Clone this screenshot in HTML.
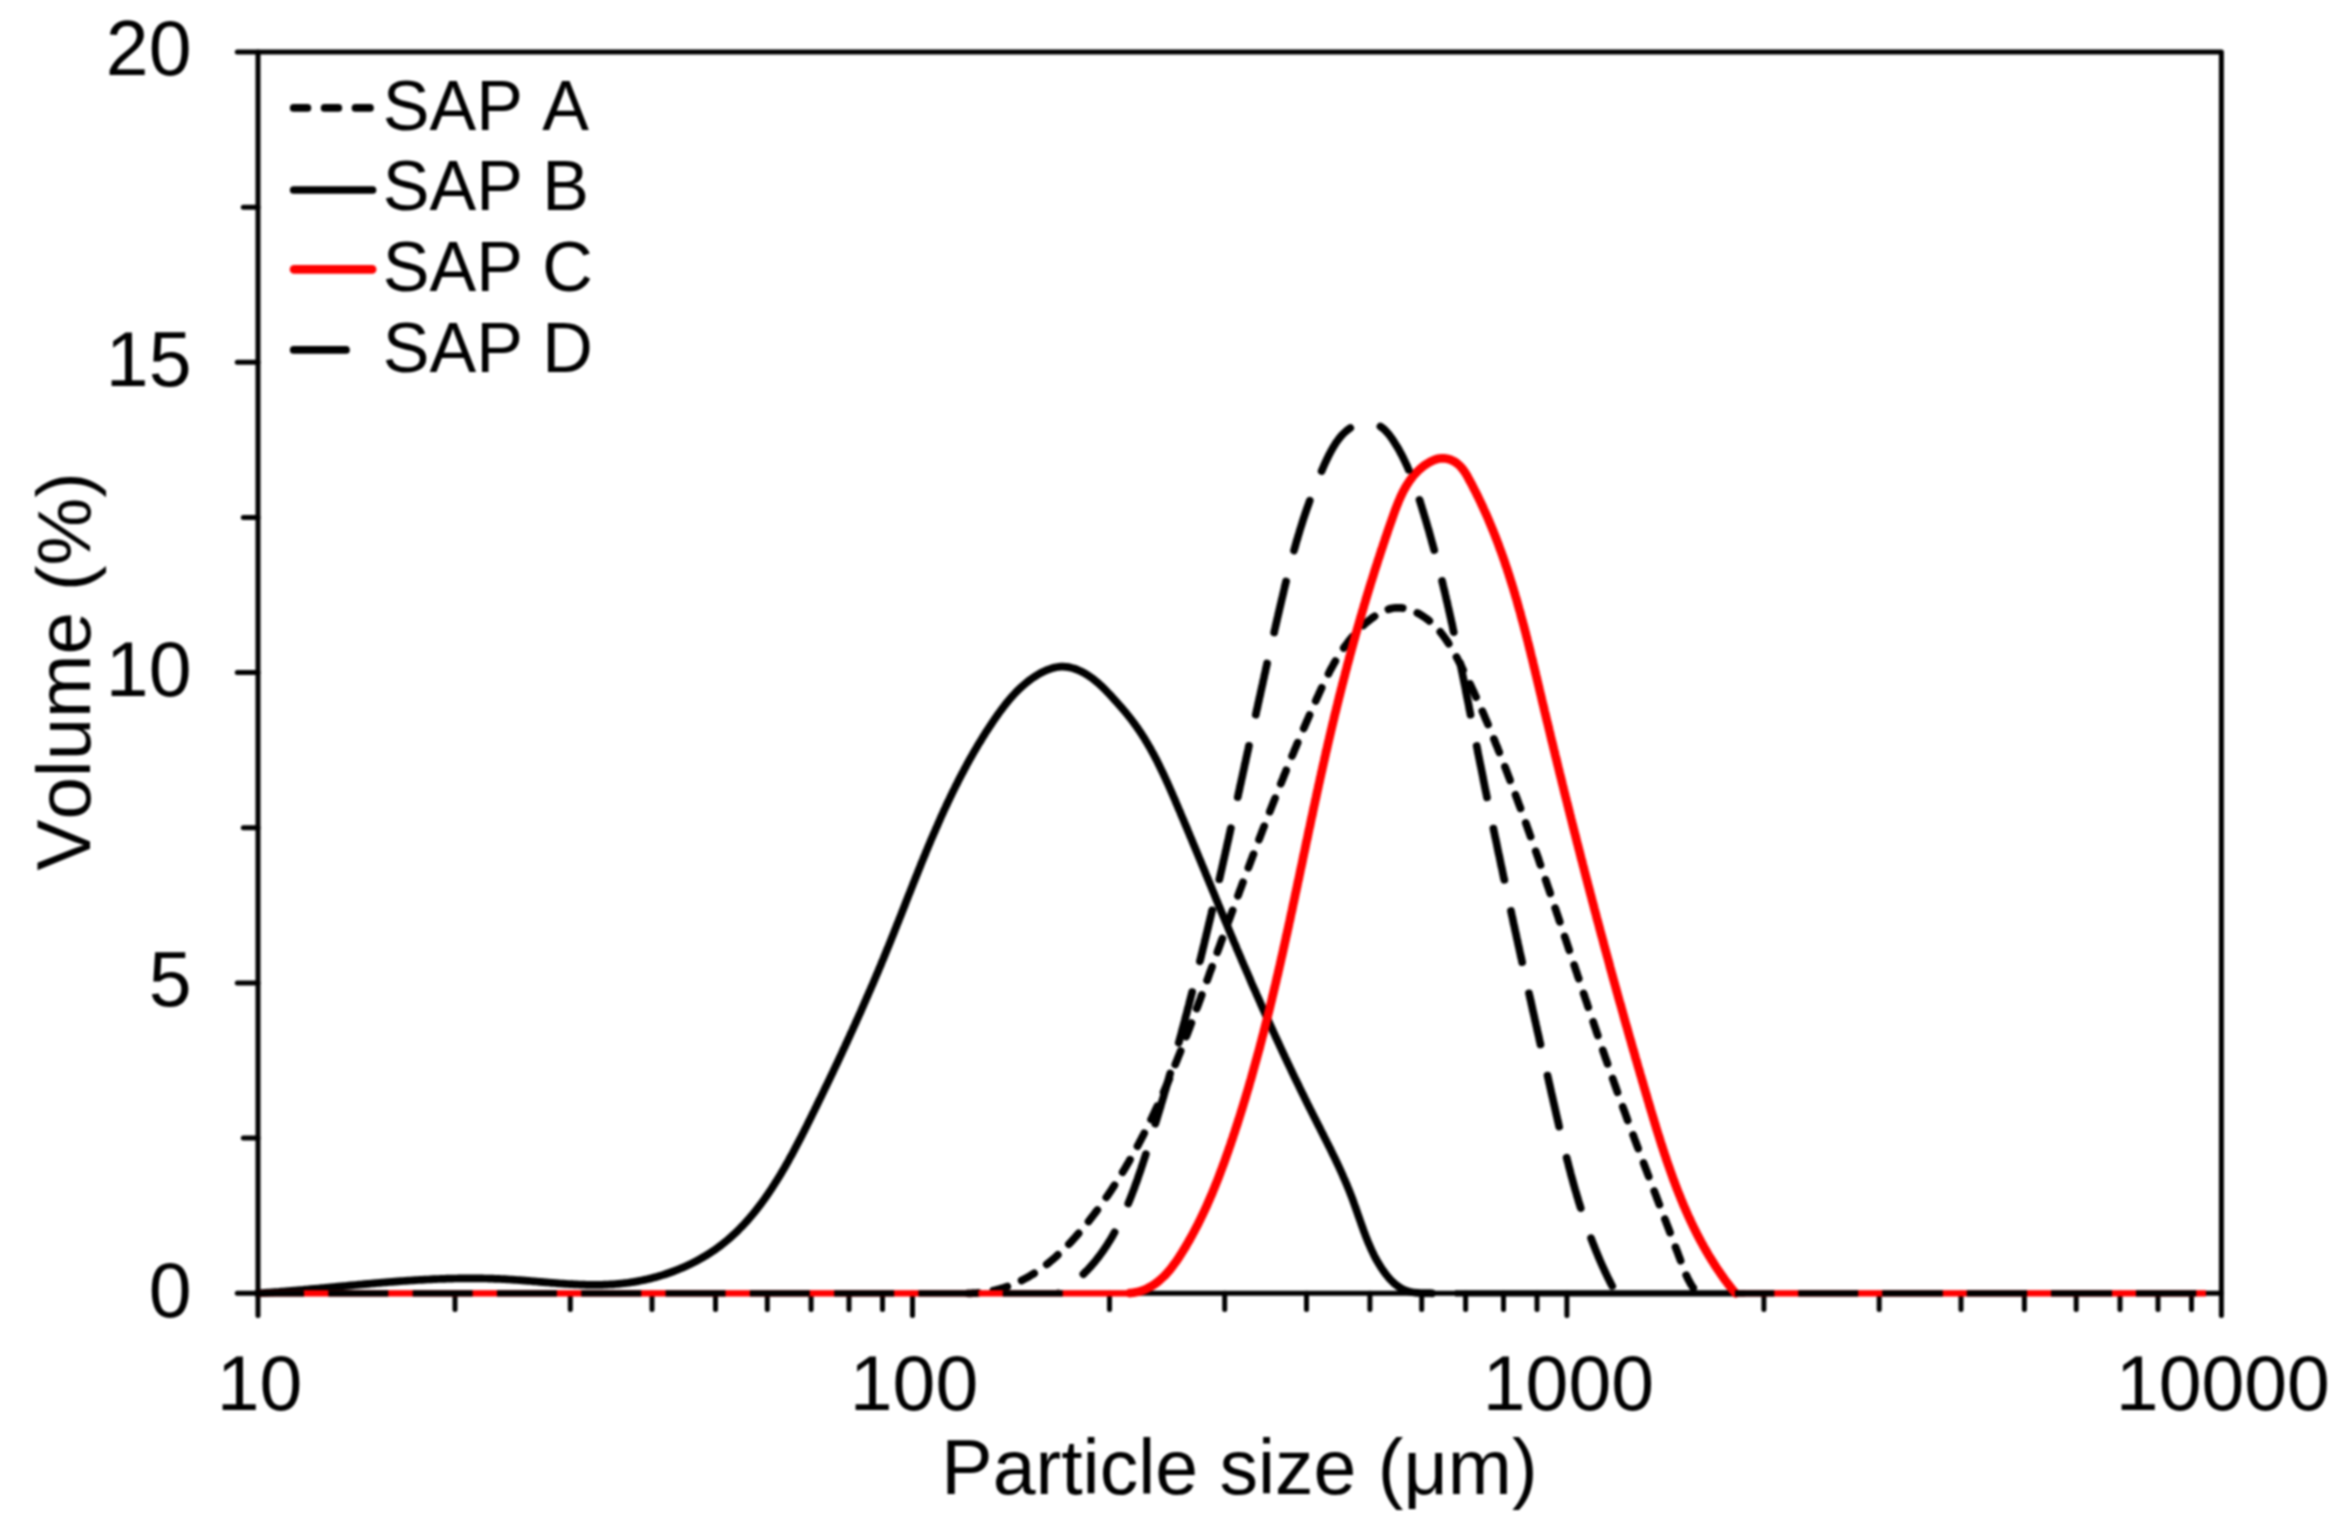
<!DOCTYPE html><html><head><meta charset="utf-8"><title>Particle size distribution</title>
<style>html,body{margin:0;padding:0;background:#fff;}svg{display:block;filter:blur(0.8px);}text{font-family:'Liberation Sans',Arial,Helvetica,sans-serif;fill:#000;font-kerning:none;}</style></head><body>
<svg xmlns="http://www.w3.org/2000/svg" width="2350" height="1532" viewBox="0 0 2350 1532">
<rect width="2350" height="1532" fill="#fff"/>
<g stroke="#000" stroke-width="5.0" fill="none" stroke-linejoin="round">
<rect x="258.0" y="52.0" width="1963.4" height="1241.3"/>
</g>
<g stroke="#000" stroke-width="5.0" stroke-linecap="round">
<line x1="237.3" y1="1293.3" x2="258.0" y2="1293.3"/>
<line x1="237.3" y1="983.0" x2="258.0" y2="983.0"/>
<line x1="237.3" y1="672.6" x2="258.0" y2="672.6"/>
<line x1="237.3" y1="362.3" x2="258.0" y2="362.3"/>
<line x1="237.3" y1="52.0" x2="258.0" y2="52.0"/>
<line x1="243.3" y1="1138.1" x2="258.0" y2="1138.1"/>
<line x1="243.3" y1="827.8" x2="258.0" y2="827.8"/>
<line x1="243.3" y1="517.5" x2="258.0" y2="517.5"/>
<line x1="243.3" y1="207.2" x2="258.0" y2="207.2"/>
<line x1="258.0" y1="1293.3" x2="258.0" y2="1315.5"/>
<line x1="455.0" y1="1293.3" x2="455.0" y2="1309.5"/>
<line x1="570.3" y1="1293.3" x2="570.3" y2="1309.5"/>
<line x1="652.0" y1="1293.3" x2="652.0" y2="1309.5"/>
<line x1="715.5" y1="1293.3" x2="715.5" y2="1309.5"/>
<line x1="767.3" y1="1293.3" x2="767.3" y2="1309.5"/>
<line x1="811.1" y1="1293.3" x2="811.1" y2="1309.5"/>
<line x1="849.0" y1="1293.3" x2="849.0" y2="1309.5"/>
<line x1="882.5" y1="1293.3" x2="882.5" y2="1309.5"/>
<line x1="912.5" y1="1293.3" x2="912.5" y2="1315.5"/>
<line x1="1109.5" y1="1293.3" x2="1109.5" y2="1309.5"/>
<line x1="1224.7" y1="1293.3" x2="1224.7" y2="1309.5"/>
<line x1="1306.5" y1="1293.3" x2="1306.5" y2="1309.5"/>
<line x1="1369.9" y1="1293.3" x2="1369.9" y2="1309.5"/>
<line x1="1421.7" y1="1293.3" x2="1421.7" y2="1309.5"/>
<line x1="1465.6" y1="1293.3" x2="1465.6" y2="1309.5"/>
<line x1="1503.5" y1="1293.3" x2="1503.5" y2="1309.5"/>
<line x1="1537.0" y1="1293.3" x2="1537.0" y2="1309.5"/>
<line x1="1566.9" y1="1293.3" x2="1566.9" y2="1315.5"/>
<line x1="1763.9" y1="1293.3" x2="1763.9" y2="1309.5"/>
<line x1="1879.2" y1="1293.3" x2="1879.2" y2="1309.5"/>
<line x1="1961.0" y1="1293.3" x2="1961.0" y2="1309.5"/>
<line x1="2024.4" y1="1293.3" x2="2024.4" y2="1309.5"/>
<line x1="2076.2" y1="1293.3" x2="2076.2" y2="1309.5"/>
<line x1="2120.0" y1="1293.3" x2="2120.0" y2="1309.5"/>
<line x1="2158.0" y1="1293.3" x2="2158.0" y2="1309.5"/>
<line x1="2191.5" y1="1293.3" x2="2191.5" y2="1309.5"/>
<line x1="2221.4" y1="1293.3" x2="2221.4" y2="1315.5"/>
</g>
<path d="M968.0,1293.3L969.5,1293.3L971.0,1293.3L972.5,1293.2L974.0,1293.2L975.5,1293.1L977.0,1293.0L978.5,1292.8L980.0,1292.7L981.5,1292.5L983.0,1292.4L984.5,1292.2L986.0,1292.0L987.4,1291.7L988.9,1291.5L990.4,1291.2L991.9,1290.9L993.3,1290.6L994.8,1290.3L996.3,1289.9L997.7,1289.5L999.2,1289.1L1000.6,1288.7L1002.0,1288.3L1003.5,1287.9L1004.9,1287.4L1006.3,1286.9L1007.8,1286.4L1009.2,1285.9L1010.6,1285.4L1012.0,1284.8L1013.4,1284.3L1014.7,1283.7L1016.1,1283.1L1017.5,1282.5L1018.8,1281.8L1020.2,1281.2L1021.5,1280.5L1022.9,1279.8L1024.2,1279.1L1025.5,1278.4L1026.9,1277.7L1028.2,1277.0L1029.5,1276.2L1030.7,1275.4L1032.0,1274.7L1033.3,1273.9L1034.6,1273.1L1035.8,1272.2L1037.1,1271.4L1038.3,1270.6L1039.6,1269.7L1040.8,1268.8L1042.0,1268.0L1043.2,1267.1L1044.4,1266.2L1045.6,1265.3L1046.8,1264.3L1048.0,1263.4L1049.1,1262.5L1050.3,1261.5L1051.4,1260.5L1052.6,1259.6L1053.7,1258.6L1054.9,1257.6L1056.0,1256.6L1057.1,1255.6L1058.2,1254.6L1059.3,1253.6L1060.4,1252.5L1061.5,1251.5L1062.6,1250.5L1063.7,1249.4L1064.7,1248.4L1065.8,1247.3L1066.8,1246.2L1067.9,1245.2L1068.9,1244.1L1070.0,1243.0L1071.0,1241.9L1072.0,1240.8L1073.0,1239.7L1074.0,1238.6L1075.0,1237.5L1076.0,1236.3L1077.0,1235.2L1078.0,1234.1L1079.0,1233.0L1080.0,1231.8L1081.0,1230.7L1081.9,1229.5L1082.9,1228.4L1083.9,1227.2L1084.8,1226.1L1085.8,1224.9L1086.7,1223.7L1087.6,1222.6L1088.6,1221.4L1089.5,1220.2L1090.4,1219.0L1091.4,1217.8L1092.3,1216.6L1093.2,1215.5L1094.1,1214.3L1095.0,1213.1L1095.9,1211.9L1096.8,1210.7L1097.7,1209.5L1098.6,1208.2L1099.5,1207.0L1100.4,1205.8L1101.3,1204.6L1102.1,1203.4L1103.0,1202.2L1103.9,1200.9L1104.7,1199.7L1105.6,1198.5L1106.4,1197.2L1107.3,1196.0L1108.1,1194.8L1109.0,1193.5L1109.8,1192.3L1110.7,1191.0L1111.5,1189.8L1112.3,1188.5L1113.1,1187.3L1114.0,1186.0L1114.8,1184.7L1115.6,1183.5L1116.4,1182.2L1117.2,1181.0L1118.0,1179.7L1118.8,1178.4L1119.6,1177.1L1120.4,1175.9L1121.2,1174.6L1122.0,1173.3L1122.7,1172.0L1123.5,1170.7L1124.3,1169.4L1125.1,1168.2L1125.8,1166.9L1126.6,1165.6L1127.3,1164.3L1128.1,1163.0L1128.9,1161.7L1129.6,1160.4L1130.3,1159.1L1131.1,1157.8L1131.8,1156.4L1132.6,1155.1L1133.3,1153.8L1134.0,1152.5L1134.7,1151.2L1135.5,1149.9L1136.2,1148.6L1136.9,1147.2L1137.6,1145.9L1138.3,1144.6L1139.0,1143.3L1139.7,1141.9L1140.4,1140.6L1141.1,1139.3L1141.8,1137.9L1142.5,1136.6L1143.2,1135.3L1143.9,1133.9L1144.5,1132.6L1145.2,1131.3L1145.9,1129.9L1146.6,1128.6L1147.2,1127.2L1147.9,1125.9L1148.6,1124.5L1149.2,1123.2L1149.9,1121.8L1150.5,1120.5L1151.2,1119.1L1151.9,1117.8L1152.5,1116.4L1153.1,1115.1L1153.8,1113.7L1154.4,1112.4L1155.1,1111.0L1155.7,1109.6L1156.3,1108.3L1157.0,1106.9L1157.6,1105.5L1158.2,1104.2L1158.8,1102.8L1159.5,1101.4L1160.1,1100.1L1160.7,1098.7L1161.3,1097.3L1161.9,1096.0L1162.5,1094.6L1163.1,1093.2L1163.7,1091.8L1164.3,1090.5L1164.9,1089.1L1165.5,1087.7L1166.1,1086.3L1166.7,1085.0L1167.3,1083.6L1167.9,1082.2L1168.5,1080.8L1169.1,1079.4L1169.7,1078.0L1170.2,1076.7L1170.8,1075.3L1171.4,1073.9L1172.0,1072.5L1172.5,1071.1L1173.1,1069.7L1173.7,1068.3L1174.3,1066.9L1174.8,1065.6L1175.4,1064.2L1175.9,1062.8L1176.5,1061.4L1177.1,1060.0L1177.6,1058.6L1178.2,1057.2L1178.7,1055.8L1179.3,1054.4L1179.9,1053.0L1180.4,1051.6L1181.0,1050.2L1181.5,1048.8L1182.1,1047.4L1182.6,1046.0L1183.1,1044.6L1183.7,1043.2L1184.2,1041.8L1184.8,1040.4L1185.3,1039.0L1185.8,1037.6L1186.4,1036.2L1186.9,1034.8L1187.5,1033.4L1188.0,1032.0L1188.5,1030.6L1189.1,1029.2L1189.6,1027.8L1190.1,1026.4L1190.6,1025.0L1191.2,1023.6L1191.7,1022.2L1192.2,1020.8L1192.8,1019.4L1193.3,1018.0L1193.8,1016.5L1194.3,1015.1L1194.9,1013.7L1195.4,1012.3L1195.9,1010.9L1196.4,1009.5L1196.9,1008.1L1197.5,1006.7L1198.0,1005.3L1198.5,1003.9L1199.0,1002.5L1199.5,1001.1L1200.1,999.6L1200.6,998.2L1201.1,996.8L1201.6,995.4L1202.1,994.0L1202.6,992.6L1203.1,991.2L1203.7,989.8L1204.2,988.4L1204.7,986.9L1205.2,985.5L1205.7,984.1L1206.2,982.7L1206.7,981.3L1207.3,979.9L1207.8,978.5L1208.3,977.1L1208.8,975.7L1209.3,974.3L1209.8,972.8L1210.3,971.4L1210.9,970.0L1211.4,968.6L1211.9,967.2L1212.4,965.8L1212.9,964.4L1213.4,963.0L1213.9,961.5L1214.5,960.1L1215.0,958.7L1215.5,957.3L1216.0,955.9L1216.5,954.5L1217.0,953.1L1217.5,951.7L1218.0,950.3L1218.6,948.8L1219.1,947.4L1219.6,946.0L1220.1,944.6L1220.6,943.2L1221.1,941.8L1221.6,940.4L1222.2,939.0L1222.7,937.6L1223.2,936.1L1223.7,934.7L1224.2,933.3L1224.7,931.9L1225.2,930.5L1225.8,929.1L1226.3,927.7L1226.8,926.3L1227.3,924.9L1227.8,923.4L1228.3,922.0L1228.8,920.6L1229.4,919.2L1229.9,917.8L1230.4,916.4L1230.9,915.0L1231.4,913.6L1231.9,912.2L1232.5,910.8L1233.0,909.3L1233.5,907.9L1234.0,906.5L1234.5,905.1L1235.0,903.7L1235.6,902.3L1236.1,900.9L1236.6,899.5L1237.1,898.1L1237.6,896.7L1238.2,895.3L1238.7,893.8L1239.2,892.4L1239.7,891.0L1240.2,889.6L1240.8,888.2L1241.3,886.8L1241.8,885.4L1242.3,884.0L1242.8,882.6L1243.4,881.2L1243.9,879.8L1244.4,878.4L1244.9,876.9L1245.5,875.5L1246.0,874.1L1246.5,872.7L1247.0,871.3L1247.6,869.9L1248.1,868.5L1248.6,867.1L1249.1,865.7L1249.7,864.3L1250.2,862.9L1250.7,861.5L1251.2,860.1L1251.8,858.7L1252.3,857.3L1252.8,855.8L1253.4,854.4L1253.9,853.0L1254.4,851.6L1255.0,850.2L1255.5,848.8L1256.0,847.4L1256.5,846.0L1257.1,844.6L1257.6,843.2L1258.1,841.8L1258.7,840.4L1259.2,839.0L1259.8,837.6L1260.3,836.2L1260.8,834.8L1261.4,833.4L1261.9,832.0L1262.4,830.6L1263.0,829.2L1263.5,827.8L1264.1,826.4L1264.6,825.0L1265.1,823.6L1265.7,822.2L1266.2,820.8L1266.8,819.4L1267.3,818.0L1267.8,816.6L1268.4,815.2L1268.9,813.8L1269.5,812.4L1270.0,811.0L1270.6,809.6L1271.1,808.2L1271.7,806.8L1272.2,805.4L1272.8,804.0L1273.3,802.6L1273.9,801.2L1274.4,799.8L1275.0,798.4L1275.5,797.0L1276.1,795.6L1276.6,794.2L1277.2,792.8L1277.7,791.4L1278.3,790.0L1278.8,788.6L1279.4,787.2L1280.0,785.8L1280.5,784.4L1281.1,783.0L1281.6,781.7L1282.2,780.3L1282.8,778.9L1283.3,777.5L1283.9,776.1L1284.4,774.7L1285.0,773.3L1285.6,771.9L1286.1,770.5L1286.7,769.1L1287.3,767.7L1287.8,766.3L1288.4,765.0L1289.0,763.6L1289.6,762.2L1290.1,760.8L1290.7,759.4L1291.3,758.0L1291.8,756.6L1292.4,755.2L1293.0,753.8L1293.6,752.5L1294.1,751.1L1294.7,749.7L1295.3,748.3L1295.9,746.9L1296.5,745.5L1297.0,744.1L1297.6,742.8L1298.2,741.4L1298.8,740.0L1299.4,738.6L1300.0,737.2L1300.6,735.8L1301.1,734.5L1301.7,733.1L1302.3,731.7L1302.9,730.3L1303.5,728.9L1304.1,727.6L1304.7,726.2L1305.3,724.8L1305.9,723.4L1306.5,722.0L1307.1,720.7L1307.7,719.3L1308.3,717.9L1308.9,716.5L1309.5,715.2L1310.1,713.8L1310.7,712.4L1311.3,711.0L1311.9,709.7L1312.5,708.3L1313.1,706.9L1313.7,705.5L1314.3,704.2L1314.9,702.8L1315.5,701.4L1316.1,700.0L1316.7,698.7L1317.4,697.3L1318.0,695.9L1318.6,694.6L1319.2,693.2L1319.8,691.8L1320.5,690.5L1321.1,689.1L1321.7,687.7L1322.3,686.4L1323.0,685.0L1323.6,683.7L1324.3,682.3L1324.9,680.9L1325.6,679.6L1326.2,678.2L1326.9,676.9L1327.6,675.6L1328.3,674.2L1328.9,672.9L1329.6,671.5L1330.3,670.2L1331.0,668.9L1331.7,667.6L1332.5,666.3L1333.2,664.9L1333.9,663.6L1334.7,662.3L1335.4,661.0L1336.2,659.7L1336.9,658.4L1337.7,657.2L1338.5,655.9L1339.3,654.6L1340.1,653.3L1340.9,652.1L1341.8,650.8L1342.6,649.6L1343.5,648.3L1344.3,647.1L1345.2,645.9L1346.1,644.7L1347.0,643.5L1347.9,642.3L1348.8,641.1L1349.7,639.9L1350.7,638.7L1351.6,637.6L1352.6,636.4L1353.6,635.3L1354.6,634.2L1355.6,633.1L1356.6,632.0L1357.6,630.9L1358.7,629.8L1359.8,628.7L1360.8,627.7L1361.9,626.6L1363.0,625.6L1364.1,624.6L1365.2,623.6L1366.4,622.6L1367.5,621.7L1368.7,620.7L1369.9,619.8L1371.0,618.9L1372.2,617.9L1373.5,617.1L1374.7,616.2L1375.9,615.4L1377.2,614.6L1378.5,613.8L1379.8,613.0L1381.1,612.3L1382.4,611.6L1383.8,611.0L1385.2,610.4L1386.6,609.9L1388.0,609.4L1389.4,608.9L1390.9,608.6L1392.4,608.3L1393.8,608.0L1395.3,607.9L1396.8,607.8L1398.3,607.8L1399.8,607.8L1401.3,607.9L1402.8,608.1L1404.3,608.4L1405.8,608.7L1407.2,609.0L1408.7,609.4L1410.1,609.9L1411.5,610.4L1412.9,610.9L1414.3,611.5L1415.7,612.1L1417.0,612.8L1418.4,613.5L1419.7,614.2L1421.0,615.0L1422.2,615.8L1423.5,616.6L1424.7,617.4L1426.0,618.3L1427.2,619.2L1428.4,620.1L1429.5,621.1L1430.7,622.1L1431.8,623.0L1432.9,624.1L1434.0,625.1L1435.0,626.2L1436.1,627.2L1437.1,628.3L1438.1,629.5L1439.1,630.6L1440.1,631.7L1441.0,632.9L1442.0,634.1L1442.9,635.3L1443.8,636.5L1444.7,637.7L1445.5,638.9L1446.4,640.1L1447.2,641.4L1448.1,642.6L1448.9,643.9L1449.7,645.2L1450.5,646.4L1451.2,647.7L1452.0,649.0L1452.8,650.3L1453.5,651.6L1454.3,652.9L1455.0,654.2L1455.7,655.5L1456.4,656.9L1457.1,658.2L1457.8,659.5L1458.5,660.8L1459.2,662.2L1459.9,663.5L1460.6,664.9L1461.3,666.2L1462.0,667.5L1462.6,668.9L1463.3,670.2L1464.0,671.6L1464.6,672.9L1465.3,674.3L1466.0,675.6L1466.6,677.0L1467.3,678.3L1467.9,679.7L1468.6,681.0L1469.2,682.4L1469.9,683.7L1470.5,685.1L1471.2,686.4L1471.8,687.8L1472.4,689.2L1473.1,690.5L1473.7,691.9L1474.3,693.2L1474.9,694.6L1475.6,696.0L1476.2,697.3L1476.8,698.7L1477.4,700.1L1478.0,701.5L1478.7,702.8L1479.3,704.2L1479.9,705.6L1480.5,706.9L1481.1,708.3L1481.7,709.7L1482.3,711.1L1482.9,712.4L1483.5,713.8L1484.1,715.2L1484.7,716.6L1485.2,718.0L1485.8,719.4L1486.4,720.7L1487.0,722.1L1487.6,723.5L1488.2,724.9L1488.7,726.3L1489.3,727.7L1489.9,729.1L1490.5,730.4L1491.0,731.8L1491.6,733.2L1492.2,734.6L1492.7,736.0L1493.3,737.4L1493.9,738.8L1494.4,740.2L1495.0,741.6L1495.5,743.0L1496.1,744.4L1496.7,745.8L1497.2,747.1L1497.8,748.5L1498.3,749.9L1498.9,751.3L1499.4,752.7L1500.0,754.1L1500.5,755.5L1501.1,756.9L1501.6,758.3L1502.2,759.7L1502.7,761.1L1503.3,762.5L1503.8,763.9L1504.3,765.3L1504.9,766.7L1505.4,768.1L1506.0,769.5L1506.5,770.9L1507.0,772.3L1507.6,773.7L1508.1,775.1L1508.6,776.5L1509.2,777.9L1509.7,779.3L1510.2,780.8L1510.8,782.2L1511.3,783.6L1511.8,785.0L1512.4,786.4L1512.9,787.8L1513.4,789.2L1513.9,790.6L1514.5,792.0L1515.0,793.4L1515.5,794.8L1516.0,796.2L1516.5,797.6L1517.1,799.0L1517.6,800.5L1518.1,801.9L1518.6,803.3L1519.1,804.7L1519.7,806.1L1520.2,807.5L1520.7,808.9L1521.2,810.3L1521.7,811.7L1522.2,813.1L1522.7,814.6L1523.2,816.0L1523.8,817.4L1524.3,818.8L1524.8,820.2L1525.3,821.6L1525.8,823.0L1526.3,824.4L1526.8,825.9L1527.3,827.3L1527.8,828.7L1528.3,830.1L1528.8,831.5L1529.3,832.9L1529.8,834.4L1530.3,835.8L1530.8,837.2L1531.3,838.6L1531.8,840.0L1532.3,841.4L1532.8,842.8L1533.3,844.3L1533.8,845.7L1534.3,847.1L1534.8,848.5L1535.3,849.9L1535.8,851.4L1536.3,852.8L1536.8,854.2L1537.3,855.6L1537.8,857.0L1538.3,858.4L1538.8,859.9L1539.2,861.3L1539.7,862.7L1540.2,864.1L1540.7,865.5L1541.2,867.0L1541.7,868.4L1542.2,869.8L1542.7,871.2L1543.2,872.6L1543.6,874.1L1544.1,875.5L1544.6,876.9L1545.1,878.3L1545.6,879.7L1546.1,881.2L1546.6,882.6L1547.0,884.0L1547.5,885.4L1548.0,886.9L1548.5,888.3L1549.0,889.7L1549.5,891.1L1549.9,892.5L1550.4,894.0L1550.9,895.4L1551.4,896.8L1551.9,898.2L1552.3,899.7L1552.8,901.1L1553.3,902.5L1553.8,903.9L1554.3,905.3L1554.7,906.8L1555.2,908.2L1555.7,909.6L1556.2,911.0L1556.6,912.5L1557.1,913.9L1557.6,915.3L1558.1,916.7L1558.6,918.2L1559.0,919.6L1559.5,921.0L1560.0,922.4L1560.5,923.9L1560.9,925.3L1561.4,926.7L1561.9,928.1L1562.4,929.6L1562.8,931.0L1563.3,932.4L1563.8,933.8L1564.3,935.3L1564.7,936.7L1565.2,938.1L1565.7,939.5L1566.2,941.0L1566.6,942.4L1567.1,943.8L1567.6,945.2L1568.1,946.7L1568.5,948.1L1569.0,949.5L1569.5,950.9L1570.0,952.4L1570.4,953.8L1570.9,955.2L1571.4,956.6L1571.9,958.1L1572.3,959.5L1572.8,960.9L1573.3,962.3L1573.8,963.8L1574.2,965.2L1574.7,966.6L1575.2,968.0L1575.6,969.5L1576.1,970.9L1576.6,972.3L1577.1,973.7L1577.5,975.2L1578.0,976.6L1578.5,978.0L1579.0,979.4L1579.4,980.9L1579.9,982.3L1580.4,983.7L1580.9,985.1L1581.3,986.5L1581.8,988.0L1582.3,989.4L1582.8,990.8L1583.2,992.2L1583.7,993.7L1584.2,995.1L1584.7,996.5L1585.1,997.9L1585.6,999.4L1586.1,1000.8L1586.6,1002.2L1587.1,1003.6L1587.5,1005.1L1588.0,1006.5L1588.5,1007.9L1589.0,1009.3L1589.4,1010.8L1589.9,1012.2L1590.4,1013.6L1590.9,1015.0L1591.4,1016.5L1591.8,1017.9L1592.3,1019.3L1592.8,1020.7L1593.3,1022.1L1593.8,1023.6L1594.2,1025.0L1594.7,1026.4L1595.2,1027.8L1595.7,1029.3L1596.2,1030.7L1596.6,1032.1L1597.1,1033.5L1597.6,1034.9L1598.1,1036.4L1598.6,1037.8L1599.1,1039.2L1599.6,1040.6L1600.0,1042.1L1600.5,1043.5L1601.0,1044.9L1601.5,1046.3L1602.0,1047.7L1602.5,1049.2L1603.0,1050.6L1603.4,1052.0L1603.9,1053.4L1604.4,1054.8L1604.9,1056.3L1605.4,1057.7L1605.9,1059.1L1606.4,1060.5L1606.9,1061.9L1607.4,1063.4L1607.9,1064.8L1608.4,1066.2L1608.9,1067.6L1609.3,1069.0L1609.8,1070.4L1610.3,1071.9L1610.8,1073.3L1611.3,1074.7L1611.8,1076.1L1612.3,1077.5L1612.8,1078.9L1613.3,1080.4L1613.8,1081.8L1614.3,1083.2L1614.8,1084.6L1615.3,1086.0L1615.8,1087.4L1616.3,1088.9L1616.8,1090.3L1617.3,1091.7L1617.8,1093.1L1618.3,1094.5L1618.8,1095.9L1619.4,1097.3L1619.9,1098.8L1620.4,1100.2L1620.9,1101.6L1621.4,1103.0L1621.9,1104.4L1622.4,1105.8L1622.9,1107.2L1623.4,1108.6L1623.9,1110.1L1624.5,1111.5L1625.0,1112.9L1625.5,1114.3L1626.0,1115.7L1626.5,1117.1L1627.0,1118.5L1627.5,1119.9L1628.1,1121.3L1628.6,1122.7L1629.1,1124.2L1629.6,1125.6L1630.1,1127.0L1630.7,1128.4L1631.2,1129.8L1631.7,1131.2L1632.2,1132.6L1632.7,1134.0L1633.3,1135.4L1633.8,1136.8L1634.3,1138.2L1634.8,1139.7L1635.4,1141.1L1635.9,1142.5L1636.4,1143.9L1636.9,1145.3L1637.5,1146.7L1638.0,1148.1L1638.5,1149.5L1639.0,1150.9L1639.6,1152.3L1640.1,1153.7L1640.6,1155.1L1641.2,1156.5L1641.7,1157.9L1642.2,1159.3L1642.7,1160.7L1643.3,1162.1L1643.8,1163.6L1644.3,1165.0L1644.9,1166.4L1645.4,1167.8L1645.9,1169.2L1646.5,1170.6L1647.0,1172.0L1647.5,1173.4L1648.1,1174.8L1648.6,1176.2L1649.1,1177.6L1649.6,1179.0L1650.2,1180.4L1650.7,1181.8L1651.2,1183.2L1651.8,1184.6L1652.3,1186.0L1652.8,1187.4L1653.4,1188.8L1653.9,1190.2L1654.4,1191.6L1655.0,1193.0L1655.5,1194.4L1656.1,1195.8L1656.6,1197.3L1657.1,1198.7L1657.7,1200.1L1658.2,1201.5L1658.7,1202.9L1659.3,1204.3L1659.8,1205.7L1660.3,1207.1L1660.9,1208.5L1661.4,1209.9L1661.9,1211.3L1662.5,1212.7L1663.0,1214.1L1663.5,1215.5L1664.1,1216.9L1664.6,1218.3L1665.1,1219.7L1665.7,1221.1L1666.2,1222.5L1666.7,1223.9L1667.3,1225.3L1667.8,1226.7L1668.3,1228.1L1668.9,1229.5L1669.4,1230.9L1669.9,1232.3L1670.5,1233.7L1671.0,1235.2L1671.5,1236.6L1672.1,1238.0L1672.6,1239.4L1673.1,1240.8L1673.6,1242.2L1674.2,1243.6L1674.7,1245.0L1675.2,1246.4L1675.8,1247.8L1676.3,1249.2L1676.8,1250.6L1677.4,1252.0L1677.9,1253.4L1678.4,1254.8L1678.9,1256.2L1679.5,1257.6L1680.0,1259.0L1680.5,1260.4L1681.1,1261.9L1681.6,1263.3L1682.1,1264.7L1682.6,1266.1L1683.2,1267.5L1683.7,1268.9L1684.2,1270.3L1684.8,1271.7L1685.4,1273.1L1685.9,1274.5L1686.5,1275.8L1687.2,1277.2L1687.8,1278.6L1688.5,1279.9L1689.2,1281.2L1689.9,1282.5L1690.6,1283.8L1691.4,1285.1L1692.3,1286.4L1693.1,1287.6L1694.0,1288.8L1695.0,1290.0L1695.9,1291.1L1696.9,1292.2L1698.0,1293.3" fill="none" stroke="#000" stroke-width="7.7" stroke-linecap="round" stroke-linejoin="round" stroke-dasharray="14.5 15.5" stroke-dashoffset="4.38"/>
<line x1="1455.0" y1="1293.3" x2="1745.0" y2="1293.3" stroke="#000" stroke-width="6.2"/>
<path d="M258.0,1293.3L259.5,1293.2L261.0,1293.1L262.5,1293.0L264.0,1292.9L265.5,1292.8L267.0,1292.7L268.5,1292.6L270.0,1292.5L271.5,1292.4L273.0,1292.3L274.5,1292.2L276.0,1292.1L277.5,1292.0L279.0,1291.9L280.5,1291.7L282.0,1291.6L283.5,1291.5L285.0,1291.4L286.5,1291.3L287.9,1291.1L289.4,1291.0L290.9,1290.9L292.4,1290.8L293.9,1290.6L295.4,1290.5L296.9,1290.4L298.4,1290.3L299.9,1290.1L301.4,1290.0L302.9,1289.9L304.4,1289.7L305.9,1289.6L307.4,1289.5L308.9,1289.3L310.4,1289.2L311.9,1289.1L313.4,1288.9L314.9,1288.8L316.4,1288.7L317.9,1288.5L319.4,1288.4L320.9,1288.2L322.3,1288.1L323.8,1288.0L325.3,1287.8L326.8,1287.7L328.3,1287.5L329.8,1287.4L331.3,1287.3L332.8,1287.1L334.3,1287.0L335.8,1286.8L337.3,1286.7L338.8,1286.6L340.3,1286.4L341.8,1286.3L343.3,1286.1L344.8,1286.0L346.3,1285.9L347.8,1285.7L349.3,1285.6L350.7,1285.4L352.2,1285.3L353.7,1285.2L355.2,1285.0L356.7,1284.9L358.2,1284.7L359.7,1284.6L361.2,1284.5L362.7,1284.3L364.2,1284.2L365.7,1284.1L367.2,1283.9L368.7,1283.8L370.2,1283.7L371.7,1283.5L373.2,1283.4L374.7,1283.3L376.2,1283.1L377.7,1283.0L379.2,1282.9L380.7,1282.8L382.2,1282.6L383.6,1282.5L385.1,1282.4L386.6,1282.3L388.1,1282.1L389.6,1282.0L391.1,1281.9L392.6,1281.8L394.1,1281.7L395.6,1281.6L397.1,1281.4L398.6,1281.3L400.1,1281.2L401.6,1281.1L403.1,1281.0L404.6,1280.9L406.1,1280.8L407.6,1280.7L409.1,1280.6L410.6,1280.5L412.1,1280.4L413.6,1280.3L415.1,1280.2L416.6,1280.1L418.1,1280.0L419.6,1279.9L421.1,1279.9L422.6,1279.8L424.1,1279.7L425.6,1279.6L427.1,1279.5L428.6,1279.5L430.1,1279.4L431.6,1279.3L433.1,1279.2L434.6,1279.2L436.1,1279.1L437.6,1279.0L439.1,1279.0L440.6,1278.9L442.1,1278.9L443.6,1278.8L445.1,1278.8L446.6,1278.7L448.1,1278.7L449.6,1278.6L451.1,1278.6L452.6,1278.6L454.1,1278.5L455.6,1278.5L457.1,1278.5L458.6,1278.4L460.1,1278.4L461.6,1278.4L463.1,1278.4L464.6,1278.4L466.1,1278.4L467.6,1278.3L469.1,1278.3L470.6,1278.3L472.1,1278.3L473.6,1278.3L475.1,1278.4L476.6,1278.4L478.1,1278.4L479.6,1278.4L481.1,1278.4L482.6,1278.4L484.1,1278.5L485.6,1278.5L487.1,1278.5L488.6,1278.6L490.1,1278.6L491.6,1278.7L493.1,1278.7L494.6,1278.8L496.1,1278.8L497.6,1278.9L499.1,1278.9L500.6,1279.0L502.1,1279.1L503.6,1279.2L505.1,1279.2L506.6,1279.3L508.1,1279.4L509.6,1279.5L511.1,1279.6L512.6,1279.7L514.1,1279.8L515.6,1279.9L517.1,1280.0L518.6,1280.1L520.1,1280.2L521.6,1280.3L523.1,1280.4L524.6,1280.6L526.1,1280.7L527.6,1280.8L529.1,1280.9L530.6,1281.0L532.1,1281.2L533.6,1281.3L535.1,1281.4L536.6,1281.5L538.1,1281.7L539.6,1281.8L541.1,1281.9L542.5,1282.1L544.0,1282.2L545.5,1282.3L547.0,1282.4L548.5,1282.5L550.0,1282.7L551.5,1282.8L553.0,1282.9L554.5,1283.0L556.0,1283.1L557.5,1283.3L559.0,1283.4L560.5,1283.5L562.0,1283.6L563.5,1283.7L565.0,1283.8L566.5,1283.9L568.0,1284.0L569.5,1284.1L571.0,1284.1L572.5,1284.2L574.0,1284.3L575.5,1284.4L577.0,1284.4L578.5,1284.5L580.0,1284.6L581.5,1284.6L583.0,1284.7L584.5,1284.7L586.0,1284.8L587.5,1284.8L589.0,1284.8L590.5,1284.8L592.0,1284.8L593.5,1284.9L595.0,1284.9L596.5,1284.9L598.0,1284.8L599.5,1284.8L601.0,1284.8L602.5,1284.8L604.0,1284.7L605.5,1284.7L607.0,1284.6L608.5,1284.5L610.0,1284.4L611.5,1284.4L613.0,1284.3L614.5,1284.2L616.0,1284.0L617.5,1283.9L619.0,1283.8L620.5,1283.6L622.0,1283.5L623.5,1283.3L625.0,1283.1L626.5,1283.0L627.9,1282.8L629.4,1282.6L630.9,1282.3L632.4,1282.1L633.9,1281.9L635.4,1281.6L636.8,1281.4L638.3,1281.1L639.8,1280.8L641.3,1280.5L642.7,1280.2L644.2,1279.9L645.7,1279.6L647.1,1279.3L648.6,1278.9L650.1,1278.6L651.5,1278.2L653.0,1277.8L654.4,1277.4L655.9,1277.1L657.3,1276.7L658.8,1276.2L660.2,1275.8L661.6,1275.4L663.1,1274.9L664.5,1274.5L665.9,1274.0L667.3,1273.5L668.8,1273.0L670.2,1272.5L671.6,1272.0L673.0,1271.5L674.4,1271.0L675.8,1270.4L677.2,1269.9L678.6,1269.3L680.0,1268.7L681.4,1268.2L682.7,1267.6L684.1,1267.0L685.5,1266.4L686.9,1265.7L688.2,1265.1L689.6,1264.4L690.9,1263.8L692.3,1263.1L693.6,1262.4L694.9,1261.8L696.3,1261.1L697.6,1260.3L698.9,1259.6L700.2,1258.9L701.5,1258.2L702.8,1257.4L704.1,1256.6L705.4,1255.9L706.7,1255.1L708.0,1254.3L709.2,1253.5L710.5,1252.7L711.7,1251.8L713.0,1251.0L714.2,1250.2L715.5,1249.3L716.7,1248.4L717.9,1247.6L719.1,1246.7L720.3,1245.8L721.5,1244.9L722.7,1243.9L723.9,1243.0L725.0,1242.1L726.2,1241.1L727.4,1240.1L728.5,1239.2L729.6,1238.2L730.8,1237.2L731.9,1236.2L733.0,1235.2L734.1,1234.2L735.2,1233.1L736.3,1232.1L737.4,1231.1L738.4,1230.0L739.5,1228.9L740.5,1227.9L741.6,1226.8L742.6,1225.7L743.7,1224.6L744.7,1223.5L745.7,1222.4L746.7,1221.3L747.7,1220.2L748.7,1219.1L749.7,1217.9L750.6,1216.8L751.6,1215.6L752.6,1214.5L753.5,1213.3L754.5,1212.2L755.4,1211.0L756.4,1209.8L757.3,1208.6L758.2,1207.4L759.1,1206.3L760.0,1205.1L760.9,1203.9L761.8,1202.7L762.7,1201.4L763.6,1200.2L764.5,1199.0L765.3,1197.8L766.2,1196.6L767.1,1195.3L767.9,1194.1L768.8,1192.8L769.6,1191.6L770.4,1190.4L771.3,1189.1L772.1,1187.9L772.9,1186.6L773.7,1185.3L774.5,1184.1L775.3,1182.8L776.1,1181.5L776.9,1180.3L777.7,1179.0L778.5,1177.7L779.3,1176.4L780.1,1175.1L780.9,1173.9L781.6,1172.6L782.4,1171.3L783.1,1170.0L783.9,1168.7L784.7,1167.4L785.4,1166.1L786.2,1164.8L786.9,1163.5L787.6,1162.2L788.4,1160.9L789.1,1159.5L789.8,1158.2L790.5,1156.9L791.3,1155.6L792.0,1154.3L792.7,1153.0L793.4,1151.6L794.1,1150.3L794.8,1149.0L795.5,1147.7L796.2,1146.3L796.9,1145.0L797.6,1143.7L798.3,1142.3L799.0,1141.0L799.7,1139.7L800.4,1138.3L801.1,1137.0L801.8,1135.7L802.4,1134.3L803.1,1133.0L803.8,1131.6L804.5,1130.3L805.1,1129.0L805.8,1127.6L806.5,1126.3L807.2,1124.9L807.8,1123.6L808.5,1122.2L809.2,1120.9L809.8,1119.6L810.5,1118.2L811.2,1116.9L811.8,1115.5L812.5,1114.2L813.1,1112.8L813.8,1111.5L814.5,1110.1L815.1,1108.8L815.8,1107.4L816.5,1106.1L817.1,1104.7L817.8,1103.4L818.4,1102.0L819.1,1100.7L819.7,1099.3L820.4,1098.0L821.1,1096.6L821.7,1095.3L822.4,1093.9L823.0,1092.6L823.7,1091.2L824.3,1089.9L825.0,1088.5L825.6,1087.2L826.3,1085.8L826.9,1084.5L827.6,1083.1L828.2,1081.8L828.9,1080.4L829.5,1079.1L830.2,1077.7L830.8,1076.3L831.5,1075.0L832.1,1073.6L832.8,1072.3L833.4,1070.9L834.0,1069.6L834.7,1068.2L835.3,1066.9L836.0,1065.5L836.6,1064.1L837.3,1062.8L837.9,1061.4L838.5,1060.1L839.2,1058.7L839.8,1057.3L840.4,1056.0L841.1,1054.6L841.7,1053.3L842.3,1051.9L843.0,1050.5L843.6,1049.2L844.2,1047.8L844.9,1046.5L845.5,1045.1L846.1,1043.7L846.8,1042.4L847.4,1041.0L848.0,1039.6L848.6,1038.3L849.3,1036.9L849.9,1035.5L850.5,1034.2L851.1,1032.8L851.8,1031.4L852.4,1030.1L853.0,1028.7L853.6,1027.3L854.2,1026.0L854.9,1024.6L855.5,1023.2L856.1,1021.9L856.7,1020.5L857.3,1019.1L857.9,1017.8L858.5,1016.4L859.2,1015.0L859.8,1013.6L860.4,1012.3L861.0,1010.9L861.6,1009.5L862.2,1008.2L862.8,1006.8L863.4,1005.4L864.0,1004.0L864.6,1002.7L865.2,1001.3L865.8,999.9L866.4,998.5L867.0,997.2L867.6,995.8L868.2,994.4L868.8,993.0L869.4,991.6L870.0,990.3L870.6,988.9L871.2,987.5L871.8,986.1L872.4,984.8L873.0,983.4L873.6,982.0L874.2,980.6L874.8,979.2L875.3,977.8L875.9,976.5L876.5,975.1L877.1,973.7L877.7,972.3L878.3,970.9L878.8,969.6L879.4,968.2L880.0,966.8L880.6,965.4L881.2,964.0L881.7,962.6L882.3,961.2L882.9,959.8L883.5,958.5L884.0,957.1L884.6,955.7L885.2,954.3L885.7,952.9L886.3,951.5L886.9,950.1L887.4,948.7L888.0,947.3L888.6,946.0L889.1,944.6L889.7,943.2L890.3,941.8L890.8,940.4L891.4,939.0L891.9,937.6L892.5,936.2L893.1,934.8L893.6,933.4L894.2,932.0L894.7,930.6L895.3,929.2L895.8,927.8L896.4,926.4L896.9,925.0L897.5,923.6L898.0,922.3L898.6,920.9L899.1,919.5L899.7,918.1L900.3,916.7L900.8,915.3L901.4,913.9L901.9,912.5L902.5,911.1L903.0,909.7L903.6,908.3L904.1,906.9L904.7,905.5L905.2,904.1L905.7,902.7L906.3,901.3L906.8,899.9L907.4,898.5L907.9,897.1L908.5,895.7L909.0,894.3L909.6,892.9L910.2,891.5L910.7,890.1L911.3,888.7L911.8,887.3L912.4,885.9L912.9,884.5L913.5,883.1L914.0,881.7L914.6,880.4L915.1,879.0L915.7,877.6L916.2,876.2L916.8,874.8L917.4,873.4L917.9,872.0L918.5,870.6L919.0,869.2L919.6,867.8L920.2,866.4L920.7,865.0L921.3,863.6L921.8,862.2L922.4,860.8L923.0,859.5L923.5,858.1L924.1,856.7L924.7,855.3L925.3,853.9L925.8,852.5L926.4,851.1L927.0,849.7L927.5,848.4L928.1,847.0L928.7,845.6L929.3,844.2L929.9,842.8L930.4,841.4L931.0,840.0L931.6,838.7L932.2,837.3L932.8,835.9L933.4,834.5L934.0,833.1L934.6,831.8L935.2,830.4L935.8,829.0L936.4,827.6L937.0,826.3L937.6,824.9L938.2,823.5L938.8,822.1L939.4,820.8L940.0,819.4L940.6,818.0L941.2,816.6L941.8,815.3L942.5,813.9L943.1,812.5L943.7,811.2L944.3,809.8L945.0,808.4L945.6,807.1L946.2,805.7L946.9,804.4L947.5,803.0L948.1,801.6L948.8,800.3L949.4,798.9L950.1,797.6L950.7,796.2L951.4,794.9L952.0,793.5L952.7,792.2L953.3,790.8L954.0,789.5L954.7,788.1L955.3,786.8L956.0,785.4L956.7,784.1L957.4,782.8L958.0,781.4L958.7,780.1L959.4,778.7L960.1,777.4L960.8,776.1L961.5,774.7L962.2,773.4L962.9,772.1L963.6,770.8L964.3,769.4L965.0,768.1L965.7,766.8L966.4,765.5L967.1,764.1L967.9,762.8L968.6,761.5L969.3,760.2L970.0,758.9L970.8,757.6L971.5,756.3L972.3,755.0L973.0,753.7L973.7,752.4L974.5,751.1L975.3,749.8L976.0,748.5L976.8,747.2L977.5,745.9L978.3,744.6L979.1,743.3L979.9,742.0L980.7,740.8L981.4,739.5L982.2,738.2L983.0,736.9L983.8,735.7L984.6,734.4L985.4,733.1L986.2,731.8L987.0,730.6L987.9,729.3L988.7,728.1L989.5,726.8L990.3,725.6L991.2,724.3L992.0,723.1L992.8,721.8L993.7,720.6L994.5,719.3L995.4,718.1L996.2,716.9L997.1,715.6L998.0,714.4L998.8,713.2L999.7,712.0L1000.6,710.8L1001.5,709.6L1002.4,708.4L1003.3,707.2L1004.2,706.0L1005.2,704.8L1006.1,703.6L1007.0,702.4L1008.0,701.3L1008.9,700.1L1009.9,699.0L1010.9,697.8L1011.9,696.7L1012.9,695.6L1013.9,694.5L1014.9,693.4L1016.0,692.3L1017.0,691.2L1018.1,690.2L1019.1,689.1L1020.2,688.1L1021.3,687.1L1022.4,686.1L1023.6,685.1L1024.7,684.1L1025.9,683.1L1027.0,682.2L1028.2,681.2L1029.4,680.3L1030.6,679.4L1031.8,678.6L1033.1,677.7L1034.3,676.9L1035.6,676.1L1036.8,675.3L1038.1,674.5L1039.4,673.7L1040.7,673.0L1042.1,672.3L1043.4,671.6L1044.8,671.0L1046.1,670.4L1047.5,669.8L1048.9,669.3L1050.3,668.8L1051.8,668.3L1053.2,667.9L1054.7,667.6L1056.1,667.2L1057.6,667.0L1059.1,666.8L1060.6,666.7L1062.1,666.6L1063.6,666.7L1065.1,666.8L1066.6,666.9L1068.1,667.1L1069.6,667.4L1071.0,667.7L1072.5,668.1L1073.9,668.5L1075.3,669.0L1076.8,669.5L1078.1,670.1L1079.5,670.7L1080.9,671.3L1082.2,672.0L1083.5,672.7L1084.9,673.5L1086.2,674.2L1087.4,675.0L1088.7,675.8L1089.9,676.7L1091.2,677.5L1092.4,678.4L1093.6,679.3L1094.7,680.2L1095.9,681.2L1097.1,682.2L1098.2,683.1L1099.3,684.1L1100.4,685.2L1101.5,686.2L1102.6,687.2L1103.7,688.3L1104.7,689.3L1105.8,690.4L1106.8,691.5L1107.9,692.6L1108.9,693.6L1109.9,694.7L1111.0,695.8L1112.0,697.0L1113.0,698.1L1114.0,699.2L1115.0,700.3L1116.0,701.4L1117.0,702.5L1118.0,703.6L1119.0,704.8L1120.0,705.9L1121.0,707.0L1122.0,708.2L1123.0,709.3L1123.9,710.4L1124.9,711.6L1125.9,712.7L1126.8,713.9L1127.8,715.1L1128.7,716.2L1129.6,717.4L1130.6,718.6L1131.5,719.8L1132.4,721.0L1133.3,722.2L1134.2,723.4L1135.1,724.6L1135.9,725.8L1136.8,727.0L1137.7,728.3L1138.5,729.5L1139.4,730.7L1140.2,732.0L1141.0,733.2L1141.9,734.5L1142.7,735.8L1143.5,737.0L1144.3,738.3L1145.1,739.6L1145.8,740.9L1146.6,742.1L1147.4,743.4L1148.1,744.7L1148.9,746.0L1149.6,747.3L1150.4,748.6L1151.1,749.9L1151.8,751.3L1152.6,752.6L1153.3,753.9L1154.0,755.2L1154.7,756.5L1155.4,757.9L1156.1,759.2L1156.8,760.5L1157.5,761.9L1158.1,763.2L1158.8,764.6L1159.5,765.9L1160.1,767.3L1160.8,768.6L1161.4,770.0L1162.1,771.3L1162.7,772.7L1163.4,774.0L1164.0,775.4L1164.6,776.7L1165.3,778.1L1165.9,779.5L1166.5,780.8L1167.1,782.2L1167.8,783.6L1168.4,785.0L1169.0,786.3L1169.6,787.7L1170.2,789.1L1170.8,790.4L1171.4,791.8L1172.0,793.2L1172.6,794.6L1173.2,796.0L1173.8,797.3L1174.4,798.7L1175.0,800.1L1175.6,801.5L1176.1,802.9L1176.7,804.2L1177.3,805.6L1177.9,807.0L1178.5,808.4L1179.1,809.8L1179.7,811.1L1180.3,812.5L1180.8,813.9L1181.4,815.3L1182.0,816.7L1182.6,818.1L1183.2,819.4L1183.8,820.8L1184.3,822.2L1184.9,823.6L1185.5,825.0L1186.1,826.4L1186.7,827.7L1187.2,829.1L1187.8,830.5L1188.4,831.9L1189.0,833.3L1189.6,834.7L1190.1,836.1L1190.7,837.4L1191.3,838.8L1191.9,840.2L1192.4,841.6L1193.0,843.0L1193.6,844.4L1194.2,845.8L1194.7,847.1L1195.3,848.5L1195.9,849.9L1196.5,851.3L1197.0,852.7L1197.6,854.1L1198.2,855.5L1198.8,856.9L1199.3,858.2L1199.9,859.6L1200.5,861.0L1201.1,862.4L1201.6,863.8L1202.2,865.2L1202.8,866.6L1203.4,868.0L1203.9,869.3L1204.5,870.7L1205.1,872.1L1205.6,873.5L1206.2,874.9L1206.8,876.3L1207.4,877.7L1207.9,879.1L1208.5,880.5L1209.1,881.8L1209.6,883.2L1210.2,884.6L1210.8,886.0L1211.4,887.4L1211.9,888.8L1212.5,890.2L1213.1,891.6L1213.7,892.9L1214.2,894.3L1214.8,895.7L1215.4,897.1L1215.9,898.5L1216.5,899.9L1217.1,901.3L1217.7,902.7L1218.2,904.0L1218.8,905.4L1219.4,906.8L1220.0,908.2L1220.5,909.6L1221.1,911.0L1221.7,912.4L1222.3,913.8L1222.8,915.1L1223.4,916.5L1224.0,917.9L1224.6,919.3L1225.1,920.7L1225.7,922.1L1226.3,923.5L1226.9,924.8L1227.5,926.2L1228.0,927.6L1228.6,929.0L1229.2,930.4L1229.8,931.8L1230.3,933.2L1230.9,934.5L1231.5,935.9L1232.1,937.3L1232.7,938.7L1233.2,940.1L1233.8,941.5L1234.4,942.8L1235.0,944.2L1235.6,945.6L1236.2,947.0L1236.7,948.4L1237.3,949.8L1237.9,951.1L1238.5,952.5L1239.1,953.9L1239.7,955.3L1240.3,956.7L1240.9,958.1L1241.4,959.4L1242.0,960.8L1242.6,962.2L1243.2,963.6L1243.8,965.0L1244.4,966.3L1245.0,967.7L1245.6,969.1L1246.2,970.5L1246.8,971.9L1247.4,973.2L1248.0,974.6L1248.6,976.0L1249.2,977.4L1249.8,978.7L1250.3,980.1L1250.9,981.5L1251.5,982.9L1252.1,984.3L1252.7,985.6L1253.3,987.0L1253.9,988.4L1254.6,989.8L1255.2,991.1L1255.8,992.5L1256.4,993.9L1257.0,995.3L1257.6,996.6L1258.2,998.0L1258.8,999.4L1259.4,1000.7L1260.0,1002.1L1260.6,1003.5L1261.2,1004.9L1261.8,1006.2L1262.4,1007.6L1263.0,1009.0L1263.7,1010.4L1264.3,1011.7L1264.9,1013.1L1265.5,1014.5L1266.1,1015.8L1266.7,1017.2L1267.3,1018.6L1268.0,1019.9L1268.6,1021.3L1269.2,1022.7L1269.8,1024.0L1270.4,1025.4L1271.1,1026.8L1271.7,1028.1L1272.3,1029.5L1272.9,1030.9L1273.5,1032.2L1274.2,1033.6L1274.8,1035.0L1275.4,1036.3L1276.0,1037.7L1276.7,1039.1L1277.3,1040.4L1277.9,1041.8L1278.6,1043.2L1279.2,1044.5L1279.8,1045.9L1280.4,1047.2L1281.1,1048.6L1281.7,1050.0L1282.3,1051.3L1283.0,1052.7L1283.6,1054.1L1284.3,1055.4L1284.9,1056.8L1285.5,1058.1L1286.2,1059.5L1286.8,1060.9L1287.4,1062.2L1288.1,1063.6L1288.7,1064.9L1289.4,1066.3L1290.0,1067.6L1290.7,1069.0L1291.3,1070.3L1291.9,1071.7L1292.6,1073.1L1293.2,1074.4L1293.9,1075.8L1294.5,1077.1L1295.2,1078.5L1295.8,1079.8L1296.5,1081.2L1297.1,1082.5L1297.8,1083.9L1298.5,1085.2L1299.1,1086.6L1299.8,1087.9L1300.4,1089.3L1301.1,1090.6L1301.7,1092.0L1302.4,1093.3L1303.1,1094.7L1303.7,1096.0L1304.4,1097.4L1305.0,1098.7L1305.7,1100.1L1306.4,1101.4L1307.0,1102.8L1307.7,1104.1L1308.4,1105.5L1309.0,1106.8L1309.7,1108.1L1310.4,1109.5L1311.1,1110.8L1311.7,1112.2L1312.4,1113.5L1313.1,1114.9L1313.7,1116.2L1314.4,1117.5L1315.1,1118.9L1315.8,1120.2L1316.5,1121.6L1317.1,1122.9L1317.8,1124.2L1318.5,1125.6L1319.2,1126.9L1319.9,1128.2L1320.5,1129.6L1321.2,1130.9L1321.9,1132.3L1322.6,1133.6L1323.3,1134.9L1323.9,1136.3L1324.6,1137.6L1325.3,1139.0L1326.0,1140.3L1326.6,1141.6L1327.3,1143.0L1328.0,1144.3L1328.6,1145.7L1329.3,1147.0L1330.0,1148.4L1330.7,1149.7L1331.3,1151.1L1332.0,1152.4L1332.6,1153.8L1333.3,1155.1L1334.0,1156.5L1334.6,1157.8L1335.3,1159.2L1335.9,1160.5L1336.5,1161.9L1337.2,1163.2L1337.8,1164.6L1338.5,1165.9L1339.1,1167.3L1339.7,1168.7L1340.3,1170.0L1341.0,1171.4L1341.6,1172.8L1342.2,1174.1L1342.8,1175.5L1343.4,1176.9L1344.0,1178.3L1344.6,1179.6L1345.2,1181.0L1345.8,1182.4L1346.4,1183.8L1347.0,1185.2L1347.5,1186.5L1348.1,1187.9L1348.7,1189.3L1349.2,1190.7L1349.8,1192.1L1350.3,1193.5L1350.9,1194.9L1351.4,1196.3L1352.0,1197.7L1352.5,1199.1L1353.0,1200.5L1353.5,1201.9L1354.0,1203.4L1354.5,1204.8L1355.0,1206.2L1355.6,1207.6L1356.0,1209.0L1356.5,1210.4L1357.0,1211.8L1357.5,1213.3L1358.0,1214.7L1358.5,1216.1L1359.0,1217.5L1359.5,1218.9L1360.0,1220.4L1360.5,1221.8L1361.0,1223.2L1361.5,1224.6L1362.0,1226.0L1362.5,1227.4L1363.0,1228.8L1363.5,1230.3L1364.0,1231.7L1364.6,1233.1L1365.1,1234.5L1365.6,1235.9L1366.2,1237.3L1366.7,1238.7L1367.3,1240.1L1367.8,1241.5L1368.4,1242.9L1369.0,1244.2L1369.6,1245.6L1370.2,1247.0L1370.8,1248.4L1371.4,1249.7L1372.1,1251.1L1372.7,1252.4L1373.4,1253.8L1374.0,1255.1L1374.7,1256.5L1375.4,1257.8L1376.1,1259.1L1376.8,1260.4L1377.6,1261.7L1378.3,1263.0L1379.1,1264.3L1379.9,1265.6L1380.7,1266.9L1381.5,1268.1L1382.4,1269.4L1383.2,1270.6L1384.1,1271.8L1385.0,1273.1L1385.9,1274.2L1386.8,1275.4L1387.8,1276.6L1388.7,1277.7L1389.7,1278.9L1390.7,1280.0L1391.8,1281.0L1392.9,1282.1L1394.0,1283.1L1395.1,1284.1L1396.3,1285.0L1397.5,1285.9L1398.7,1286.8L1399.9,1287.6L1401.2,1288.4L1402.6,1289.1L1403.9,1289.7L1405.3,1290.3L1406.7,1290.9L1408.1,1291.3L1409.6,1291.7L1411.0,1292.0L1412.5,1292.3L1414.0,1292.5L1415.5,1292.7L1417.0,1292.8L1418.5,1292.9L1420.0,1293.0L1421.5,1293.1L1423.0,1293.1L1424.5,1293.1L1426.0,1293.1L1427.5,1293.2L1429.0,1293.2L1430.5,1293.2L1432.0,1293.3" fill="none" stroke="#000" stroke-width="7.7" stroke-linecap="round" stroke-linejoin="round"/>
<line x1="258.0" y1="1293.3" x2="1131.0" y2="1293.3" stroke="#ff0000" stroke-width="6.2"/>
<line x1="1736.0" y1="1293.3" x2="2206.0" y2="1293.3" stroke="#ff0000" stroke-width="6.2"/>
<path d="M1129.6,1293.1L1131.1,1293.0L1132.6,1292.8L1134.1,1292.6L1135.6,1292.3L1137.0,1292.0L1138.5,1291.7L1139.9,1291.3L1141.4,1290.8L1142.8,1290.3L1144.2,1289.8L1145.6,1289.2L1146.9,1288.6L1148.3,1287.9L1149.6,1287.2L1150.9,1286.5L1152.2,1285.7L1153.5,1284.9L1154.7,1284.1L1156.0,1283.2L1157.2,1282.3L1158.3,1281.4L1159.5,1280.4L1160.6,1279.4L1161.7,1278.4L1162.8,1277.4L1163.9,1276.4L1165.0,1275.3L1166.0,1274.2L1167.0,1273.1L1168.0,1272.0L1169.0,1270.8L1170.0,1269.7L1170.9,1268.5L1171.8,1267.3L1172.7,1266.1L1173.6,1264.9L1174.5,1263.7L1175.4,1262.5L1176.3,1261.3L1177.1,1260.1L1178.0,1258.8L1178.8,1257.6L1179.6,1256.3L1180.4,1255.0L1181.2,1253.8L1182.0,1252.5L1182.8,1251.2L1183.6,1249.9L1184.4,1248.7L1185.2,1247.4L1185.9,1246.1L1186.7,1244.8L1187.4,1243.5L1188.2,1242.2L1188.9,1240.9L1189.7,1239.6L1190.4,1238.3L1191.1,1237.0L1191.9,1235.6L1192.6,1234.3L1193.3,1233.0L1194.0,1231.7L1194.7,1230.3L1195.4,1229.0L1196.1,1227.7L1196.8,1226.4L1197.5,1225.0L1198.2,1223.7L1198.8,1222.3L1199.5,1221.0L1200.2,1219.6L1200.8,1218.3L1201.5,1216.9L1202.1,1215.6L1202.8,1214.2L1203.4,1212.9L1204.1,1211.5L1204.7,1210.2L1205.3,1208.8L1206.0,1207.4L1206.6,1206.1L1207.2,1204.7L1207.8,1203.3L1208.4,1201.9L1209.0,1200.6L1209.6,1199.2L1210.2,1197.8L1210.8,1196.4L1211.4,1195.1L1212.0,1193.7L1212.6,1192.3L1213.1,1190.9L1213.7,1189.5L1214.3,1188.1L1214.8,1186.7L1215.4,1185.3L1216.0,1183.9L1216.5,1182.5L1217.1,1181.1L1217.6,1179.8L1218.2,1178.4L1218.7,1177.0L1219.2,1175.6L1219.8,1174.1L1220.3,1172.7L1220.8,1171.3L1221.4,1169.9L1221.9,1168.5L1222.4,1167.1L1222.9,1165.7L1223.5,1164.3L1224.0,1162.9L1224.5,1161.5L1225.0,1160.1L1225.5,1158.6L1226.0,1157.2L1226.5,1155.8L1227.0,1154.4L1227.5,1153.0L1228.0,1151.6L1228.5,1150.2L1229.0,1148.7L1229.5,1147.3L1230.0,1145.9L1230.5,1144.5L1230.9,1143.1L1231.4,1141.6L1231.9,1140.2L1232.4,1138.8L1232.9,1137.4L1233.3,1135.9L1233.8,1134.5L1234.3,1133.1L1234.8,1131.7L1235.2,1130.2L1235.7,1128.8L1236.2,1127.4L1236.6,1126.0L1237.1,1124.5L1237.6,1123.1L1238.0,1121.7L1238.5,1120.2L1238.9,1118.8L1239.4,1117.4L1239.8,1115.9L1240.3,1114.5L1240.7,1113.1L1241.2,1111.6L1241.6,1110.2L1242.1,1108.8L1242.5,1107.3L1243.0,1105.9L1243.4,1104.5L1243.8,1103.0L1244.3,1101.6L1244.7,1100.2L1245.2,1098.7L1245.6,1097.3L1246.0,1095.8L1246.4,1094.4L1246.9,1093.0L1247.3,1091.5L1247.7,1090.1L1248.2,1088.6L1248.6,1087.2L1249.0,1085.8L1249.4,1084.3L1249.8,1082.9L1250.2,1081.4L1250.7,1080.0L1251.1,1078.6L1251.5,1077.1L1251.9,1075.7L1252.3,1074.2L1252.7,1072.8L1253.1,1071.3L1253.5,1069.9L1253.9,1068.4L1254.3,1067.0L1254.7,1065.5L1255.1,1064.1L1255.5,1062.6L1255.9,1061.2L1256.3,1059.8L1256.7,1058.3L1257.1,1056.9L1257.5,1055.4L1257.9,1054.0L1258.3,1052.5L1258.7,1051.1L1259.1,1049.6L1259.5,1048.2L1259.9,1046.7L1260.2,1045.3L1260.6,1043.8L1261.0,1042.3L1261.4,1040.9L1261.8,1039.4L1262.1,1038.0L1262.5,1036.5L1262.9,1035.1L1263.3,1033.6L1263.7,1032.2L1264.0,1030.7L1264.4,1029.3L1264.8,1027.8L1265.1,1026.4L1265.5,1024.9L1265.9,1023.4L1266.2,1022.0L1266.6,1020.5L1267.0,1019.1L1267.3,1017.6L1267.7,1016.2L1268.1,1014.7L1268.4,1013.2L1268.8,1011.8L1269.2,1010.3L1269.5,1008.9L1269.9,1007.4L1270.2,1006.0L1270.6,1004.5L1270.9,1003.0L1271.3,1001.6L1271.6,1000.1L1272.0,998.7L1272.3,997.2L1272.7,995.7L1273.0,994.3L1273.4,992.8L1273.7,991.4L1274.1,989.9L1274.4,988.4L1274.8,987.0L1275.1,985.5L1275.5,984.0L1275.8,982.6L1276.2,981.1L1276.5,979.7L1276.8,978.2L1277.2,976.7L1277.5,975.3L1277.9,973.8L1278.2,972.3L1278.5,970.9L1278.9,969.4L1279.2,968.0L1279.5,966.5L1279.9,965.0L1280.2,963.6L1280.5,962.1L1280.9,960.6L1281.2,959.2L1281.5,957.7L1281.9,956.2L1282.2,954.8L1282.5,953.3L1282.9,951.8L1283.2,950.4L1283.5,948.9L1283.8,947.4L1284.2,946.0L1284.5,944.5L1284.8,943.1L1285.1,941.6L1285.5,940.1L1285.8,938.7L1286.1,937.2L1286.4,935.7L1286.8,934.3L1287.1,932.8L1287.4,931.3L1287.7,929.9L1288.1,928.4L1288.4,926.9L1288.7,925.5L1289.0,924.0L1289.3,922.5L1289.7,921.0L1290.0,919.6L1290.3,918.1L1290.6,916.6L1290.9,915.2L1291.2,913.7L1291.6,912.2L1291.9,910.8L1292.2,909.3L1292.5,907.8L1292.8,906.4L1293.1,904.9L1293.4,903.4L1293.8,902.0L1294.1,900.5L1294.4,899.0L1294.7,897.6L1295.0,896.1L1295.3,894.6L1295.6,893.2L1296.0,891.7L1296.3,890.2L1296.6,888.7L1296.9,887.3L1297.2,885.8L1297.5,884.3L1297.8,882.9L1298.1,881.4L1298.5,879.9L1298.8,878.5L1299.1,877.0L1299.4,875.5L1299.7,874.1L1300.0,872.6L1300.3,871.1L1300.6,869.6L1300.9,868.2L1301.3,866.7L1301.6,865.2L1301.9,863.8L1302.2,862.3L1302.5,860.8L1302.8,859.4L1303.1,857.9L1303.4,856.4L1303.7,855.0L1304.0,853.5L1304.4,852.0L1304.7,850.5L1305.0,849.1L1305.3,847.6L1305.6,846.1L1305.9,844.7L1306.2,843.2L1306.5,841.7L1306.8,840.3L1307.2,838.8L1307.5,837.3L1307.8,835.9L1308.1,834.4L1308.4,832.9L1308.7,831.4L1309.0,830.0L1309.3,828.5L1309.7,827.0L1310.0,825.6L1310.3,824.1L1310.6,822.6L1310.9,821.2L1311.2,819.7L1311.5,818.2L1311.8,816.8L1312.2,815.3L1312.5,813.8L1312.8,812.4L1313.1,810.9L1313.4,809.4L1313.7,808.0L1314.0,806.5L1314.4,805.0L1314.7,803.5L1315.0,802.1L1315.3,800.6L1315.6,799.1L1316.0,797.7L1316.3,796.2L1316.6,794.7L1316.9,793.3L1317.2,791.8L1317.5,790.3L1317.9,788.9L1318.2,787.4L1318.5,785.9L1318.8,784.5L1319.2,783.0L1319.5,781.5L1319.8,780.1L1320.1,778.6L1320.4,777.1L1320.8,775.7L1321.1,774.2L1321.4,772.7L1321.8,771.3L1322.1,769.8L1322.4,768.3L1322.7,766.9L1323.1,765.4L1323.4,763.9L1323.7,762.5L1324.1,761.0L1324.4,759.6L1324.7,758.1L1325.0,756.6L1325.4,755.2L1325.7,753.7L1326.0,752.2L1326.4,750.8L1326.7,749.3L1327.1,747.8L1327.4,746.4L1327.7,744.9L1328.1,743.4L1328.4,742.0L1328.7,740.5L1329.1,739.1L1329.4,737.6L1329.8,736.1L1330.1,734.7L1330.5,733.2L1330.8,731.7L1331.1,730.3L1331.5,728.8L1331.8,727.4L1332.2,725.9L1332.5,724.4L1332.9,723.0L1333.2,721.5L1333.6,720.1L1333.9,718.6L1334.3,717.1L1334.6,715.7L1335.0,714.2L1335.3,712.8L1335.7,711.3L1336.1,709.8L1336.4,708.4L1336.8,706.9L1337.1,705.5L1337.5,704.0L1337.8,702.6L1338.2,701.1L1338.6,699.6L1338.9,698.2L1339.3,696.7L1339.7,695.3L1340.0,693.8L1340.4,692.4L1340.8,690.9L1341.1,689.4L1341.5,688.0L1341.9,686.5L1342.2,685.1L1342.6,683.6L1343.0,682.2L1343.4,680.7L1343.7,679.3L1344.1,677.8L1344.5,676.3L1344.9,674.9L1345.2,673.4L1345.6,672.0L1346.0,670.5L1346.4,669.1L1346.8,667.6L1347.1,666.2L1347.5,664.7L1347.9,663.3L1348.3,661.8L1348.7,660.4L1349.1,658.9L1349.5,657.5L1349.8,656.0L1350.2,654.6L1350.6,653.1L1351.0,651.7L1351.4,650.2L1351.8,648.8L1352.2,647.3L1352.6,645.9L1353.0,644.4L1353.4,643.0L1353.8,641.5L1354.2,640.1L1354.6,638.6L1355.0,637.2L1355.4,635.7L1355.8,634.3L1356.2,632.9L1356.6,631.4L1357.0,630.0L1357.4,628.5L1357.8,627.1L1358.3,625.6L1358.7,624.2L1359.1,622.7L1359.5,621.3L1359.9,619.9L1360.3,618.4L1360.7,617.0L1361.2,615.5L1361.6,614.1L1362.0,612.6L1362.4,611.2L1362.8,609.8L1363.3,608.3L1363.7,606.9L1364.1,605.4L1364.5,604.0L1365.0,602.6L1365.4,601.1L1365.8,599.7L1366.3,598.2L1366.7,596.8L1367.1,595.4L1367.6,593.9L1368.0,592.5L1368.4,591.1L1368.9,589.6L1369.3,588.2L1369.8,586.7L1370.2,585.3L1370.6,583.9L1371.1,582.4L1371.5,581.0L1372.0,579.6L1372.4,578.1L1372.9,576.7L1373.3,575.3L1373.8,573.8L1374.2,572.4L1374.7,571.0L1375.1,569.5L1375.6,568.1L1376.0,566.7L1376.5,565.3L1377.0,563.8L1377.4,562.4L1377.9,561.0L1378.3,559.5L1378.8,558.1L1379.3,556.7L1379.7,555.3L1380.2,553.8L1380.7,552.4L1381.1,551.0L1381.6,549.5L1382.1,548.1L1382.6,546.7L1383.0,545.3L1383.5,543.8L1384.0,542.4L1384.5,541.0L1384.9,539.6L1385.4,538.1L1385.9,536.7L1386.4,535.3L1386.9,533.9L1387.4,532.5L1387.8,531.0L1388.3,529.6L1388.8,528.2L1389.3,526.8L1389.8,525.4L1390.3,523.9L1390.8,522.5L1391.3,521.1L1391.8,519.7L1392.3,518.3L1392.8,516.9L1393.3,515.4L1393.8,514.0L1394.3,512.6L1394.8,511.2L1395.3,509.8L1395.9,508.4L1396.4,507.0L1396.9,505.6L1397.5,504.2L1398.1,502.8L1398.6,501.4L1399.2,500.0L1399.8,498.7L1400.4,497.3L1401.0,495.9L1401.7,494.6L1402.3,493.2L1403.0,491.9L1403.7,490.5L1404.4,489.2L1405.2,487.9L1405.9,486.6L1406.7,485.3L1407.5,484.0L1408.3,482.8L1409.1,481.5L1410.0,480.3L1410.8,479.1L1411.8,477.9L1412.7,476.7L1413.6,475.5L1414.6,474.4L1415.6,473.3L1416.7,472.2L1417.7,471.1L1418.8,470.1L1419.9,469.1L1421.1,468.1L1422.2,467.2L1423.4,466.2L1424.6,465.3L1425.9,464.5L1427.1,463.7L1428.4,462.9L1429.7,462.1L1431.0,461.4L1432.4,460.8L1433.8,460.2L1435.2,459.7L1436.6,459.2L1438.0,458.8L1439.5,458.5L1441.0,458.4L1442.5,458.3L1444.0,458.3L1445.5,458.5L1447.0,458.7L1448.4,459.1L1449.9,459.5L1451.3,460.1L1452.6,460.7L1454.0,461.4L1455.3,462.1L1456.5,463.0L1457.7,463.9L1458.8,464.9L1459.9,465.9L1460.9,467.0L1461.9,468.2L1462.9,469.3L1463.7,470.5L1464.6,471.8L1465.4,473.0L1466.2,474.3L1467.0,475.6L1467.7,476.9L1468.4,478.2L1469.1,479.6L1469.8,480.9L1470.6,482.2L1471.3,483.5L1472.0,484.9L1472.7,486.2L1473.3,487.5L1474.0,488.9L1474.7,490.2L1475.4,491.5L1476.1,492.9L1476.7,494.2L1477.4,495.6L1478.1,496.9L1478.7,498.3L1479.4,499.6L1480.0,501.0L1480.7,502.3L1481.3,503.7L1481.9,505.1L1482.6,506.4L1483.2,507.8L1483.8,509.2L1484.4,510.5L1485.0,511.9L1485.7,513.3L1486.3,514.6L1486.9,516.0L1487.5,517.4L1488.1,518.8L1488.7,520.1L1489.2,521.5L1489.8,522.9L1490.4,524.3L1491.0,525.7L1491.6,527.1L1492.1,528.5L1492.7,529.9L1493.3,531.2L1493.8,532.6L1494.4,534.0L1494.9,535.4L1495.5,536.8L1496.0,538.2L1496.6,539.6L1497.1,541.0L1497.6,542.4L1498.2,543.8L1498.7,545.2L1499.2,546.7L1499.7,548.1L1500.2,549.5L1500.8,550.9L1501.3,552.3L1501.8,553.7L1502.3,555.1L1502.8,556.5L1503.3,558.0L1503.8,559.4L1504.3,560.8L1504.8,562.2L1505.2,563.6L1505.7,565.1L1506.2,566.5L1506.7,567.9L1507.2,569.3L1507.6,570.8L1508.1,572.2L1508.6,573.6L1509.0,575.0L1509.5,576.5L1509.9,577.9L1510.4,579.3L1510.8,580.8L1511.3,582.2L1511.7,583.6L1512.2,585.1L1512.6,586.5L1513.1,587.9L1513.5,589.4L1513.9,590.8L1514.4,592.3L1514.8,593.7L1515.2,595.1L1515.6,596.6L1516.1,598.0L1516.5,599.5L1516.9,600.9L1517.3,602.3L1517.7,603.8L1518.1,605.2L1518.5,606.7L1518.9,608.1L1519.3,609.6L1519.8,611.0L1520.2,612.5L1520.6,613.9L1520.9,615.4L1521.3,616.8L1521.7,618.3L1522.1,619.7L1522.5,621.2L1522.9,622.6L1523.3,624.1L1523.7,625.5L1524.1,627.0L1524.4,628.4L1524.8,629.9L1525.2,631.3L1525.6,632.8L1526.0,634.2L1526.3,635.7L1526.7,637.1L1527.1,638.6L1527.4,640.0L1527.8,641.5L1528.2,643.0L1528.5,644.4L1528.9,645.9L1529.3,647.3L1529.6,648.8L1530.0,650.2L1530.4,651.7L1530.7,653.2L1531.1,654.6L1531.4,656.1L1531.8,657.5L1532.2,659.0L1532.5,660.5L1532.9,661.9L1533.2,663.4L1533.6,664.8L1533.9,666.3L1534.3,667.7L1534.6,669.2L1535.0,670.7L1535.3,672.1L1535.7,673.6L1536.0,675.0L1536.4,676.5L1536.7,678.0L1537.1,679.4L1537.4,680.9L1537.8,682.4L1538.1,683.8L1538.5,685.3L1538.8,686.7L1539.2,688.2L1539.5,689.7L1539.9,691.1L1540.2,692.6L1540.6,694.0L1540.9,695.5L1541.3,697.0L1541.6,698.4L1541.9,699.9L1542.3,701.3L1542.6,702.8L1543.0,704.3L1543.3,705.7L1543.7,707.2L1544.0,708.6L1544.4,710.1L1544.7,711.6L1545.1,713.0L1545.4,714.5L1545.8,715.9L1546.1,717.4L1546.5,718.9L1546.8,720.3L1547.2,721.8L1547.6,723.2L1547.9,724.7L1548.3,726.2L1548.6,727.6L1549.0,729.1L1549.3,730.5L1549.7,732.0L1550.0,733.5L1550.4,734.9L1550.7,736.4L1551.1,737.8L1551.4,739.3L1551.8,740.8L1552.1,742.2L1552.5,743.7L1552.9,745.1L1553.2,746.6L1553.6,748.1L1553.9,749.5L1554.3,751.0L1554.6,752.4L1555.0,753.9L1555.3,755.4L1555.7,756.8L1556.1,758.3L1556.4,759.7L1556.8,761.2L1557.1,762.6L1557.5,764.1L1557.9,765.6L1558.2,767.0L1558.6,768.5L1558.9,769.9L1559.3,771.4L1559.6,772.9L1560.0,774.3L1560.4,775.8L1560.7,777.2L1561.1,778.7L1561.5,780.1L1561.8,781.6L1562.2,783.1L1562.5,784.5L1562.9,786.0L1563.3,787.4L1563.6,788.9L1564.0,790.3L1564.3,791.8L1564.7,793.3L1565.1,794.7L1565.4,796.2L1565.8,797.6L1566.2,799.1L1566.5,800.5L1566.9,802.0L1567.3,803.5L1567.6,804.9L1568.0,806.4L1568.4,807.8L1568.7,809.3L1569.1,810.7L1569.5,812.2L1569.8,813.7L1570.2,815.1L1570.6,816.6L1570.9,818.0L1571.3,819.5L1571.7,820.9L1572.0,822.4L1572.4,823.8L1572.8,825.3L1573.1,826.8L1573.5,828.2L1573.9,829.7L1574.2,831.1L1574.6,832.6L1575.0,834.0L1575.4,835.5L1575.7,836.9L1576.1,838.4L1576.5,839.9L1576.8,841.3L1577.2,842.8L1577.6,844.2L1578.0,845.7L1578.3,847.1L1578.7,848.6L1579.1,850.0L1579.5,851.5L1579.8,852.9L1580.2,854.4L1580.6,855.9L1580.9,857.3L1581.3,858.8L1581.7,860.2L1582.1,861.7L1582.5,863.1L1582.8,864.6L1583.2,866.0L1583.6,867.5L1584.0,868.9L1584.3,870.4L1584.7,871.8L1585.1,873.3L1585.5,874.8L1585.8,876.2L1586.2,877.7L1586.6,879.1L1587.0,880.6L1587.4,882.0L1587.7,883.5L1588.1,884.9L1588.5,886.4L1588.9,887.8L1589.3,889.3L1589.6,890.7L1590.0,892.2L1590.4,893.6L1590.8,895.1L1591.2,896.5L1591.6,898.0L1591.9,899.5L1592.3,900.9L1592.7,902.4L1593.1,903.8L1593.5,905.3L1593.9,906.7L1594.2,908.2L1594.6,909.6L1595.0,911.1L1595.4,912.5L1595.8,914.0L1596.2,915.4L1596.5,916.9L1596.9,918.3L1597.3,919.8L1597.7,921.2L1598.1,922.7L1598.5,924.1L1598.9,925.6L1599.3,927.0L1599.6,928.5L1600.0,929.9L1600.4,931.4L1600.8,932.8L1601.2,934.3L1601.6,935.7L1602.0,937.2L1602.4,938.6L1602.8,940.1L1603.2,941.5L1603.5,943.0L1603.9,944.4L1604.3,945.9L1604.7,947.3L1605.1,948.8L1605.5,950.2L1605.9,951.7L1606.3,953.1L1606.7,954.6L1607.1,956.0L1607.5,957.5L1607.9,958.9L1608.3,960.4L1608.7,961.8L1609.1,963.3L1609.5,964.7L1609.8,966.2L1610.2,967.6L1610.6,969.1L1611.0,970.5L1611.4,972.0L1611.8,973.4L1612.2,974.9L1612.6,976.3L1613.0,977.8L1613.4,979.2L1613.8,980.6L1614.2,982.1L1614.6,983.5L1615.0,985.0L1615.4,986.4L1615.8,987.9L1616.2,989.3L1616.6,990.8L1617.0,992.2L1617.4,993.7L1617.8,995.1L1618.2,996.6L1618.6,998.0L1619.0,999.5L1619.4,1000.9L1619.8,1002.4L1620.3,1003.8L1620.7,1005.2L1621.1,1006.7L1621.5,1008.1L1621.9,1009.6L1622.3,1011.0L1622.7,1012.5L1623.1,1013.9L1623.5,1015.4L1623.9,1016.8L1624.3,1018.3L1624.7,1019.7L1625.1,1021.2L1625.5,1022.6L1625.9,1024.0L1626.3,1025.5L1626.8,1026.9L1627.2,1028.4L1627.6,1029.8L1628.0,1031.3L1628.4,1032.7L1628.8,1034.2L1629.2,1035.6L1629.6,1037.0L1630.0,1038.5L1630.5,1039.9L1630.9,1041.4L1631.3,1042.8L1631.7,1044.3L1632.1,1045.7L1632.5,1047.2L1632.9,1048.6L1633.3,1050.0L1633.8,1051.5L1634.2,1052.9L1634.6,1054.4L1635.0,1055.8L1635.4,1057.3L1635.8,1058.7L1636.3,1060.1L1636.7,1061.6L1637.1,1063.0L1637.5,1064.5L1637.9,1065.9L1638.3,1067.4L1638.8,1068.8L1639.2,1070.2L1639.6,1071.7L1640.0,1073.1L1640.4,1074.6L1640.9,1076.0L1641.3,1077.4L1641.7,1078.9L1642.1,1080.3L1642.5,1081.8L1643.0,1083.2L1643.4,1084.7L1643.8,1086.1L1644.2,1087.5L1644.6,1089.0L1645.1,1090.4L1645.5,1091.9L1645.9,1093.3L1646.3,1094.7L1646.8,1096.2L1647.2,1097.6L1647.6,1099.1L1648.0,1100.5L1648.5,1101.9L1648.9,1103.4L1649.3,1104.8L1649.7,1106.3L1650.2,1107.7L1650.6,1109.1L1651.0,1110.6L1651.5,1112.0L1651.9,1113.5L1652.3,1114.9L1652.8,1116.3L1653.2,1117.8L1653.6,1119.2L1654.1,1120.7L1654.5,1122.1L1654.9,1123.5L1655.4,1125.0L1655.8,1126.4L1656.2,1127.8L1656.7,1129.3L1657.1,1130.7L1657.6,1132.1L1658.0,1133.6L1658.5,1135.0L1658.9,1136.4L1659.4,1137.9L1659.8,1139.3L1660.3,1140.7L1660.7,1142.2L1661.2,1143.6L1661.6,1145.0L1662.1,1146.5L1662.6,1147.9L1663.0,1149.3L1663.5,1150.7L1664.0,1152.2L1664.4,1153.6L1664.9,1155.0L1665.4,1156.4L1665.9,1157.9L1666.3,1159.3L1666.8,1160.7L1667.3,1162.1L1667.8,1163.6L1668.3,1165.0L1668.8,1166.4L1669.3,1167.8L1669.8,1169.2L1670.3,1170.6L1670.8,1172.1L1671.3,1173.5L1671.8,1174.9L1672.3,1176.3L1672.8,1177.7L1673.3,1179.1L1673.8,1180.5L1674.4,1181.9L1674.9,1183.3L1675.4,1184.7L1676.0,1186.1L1676.5,1187.6L1677.0,1189.0L1677.6,1190.4L1678.1,1191.8L1678.7,1193.1L1679.2,1194.5L1679.8,1195.9L1680.4,1197.3L1680.9,1198.7L1681.5,1200.1L1682.1,1201.5L1682.6,1202.9L1683.2,1204.3L1683.8,1205.7L1684.4,1207.0L1685.0,1208.4L1685.6,1209.8L1686.2,1211.2L1686.8,1212.5L1687.4,1213.9L1688.0,1215.3L1688.6,1216.6L1689.3,1218.0L1689.9,1219.4L1690.5,1220.7L1691.2,1222.1L1691.8,1223.5L1692.5,1224.8L1693.1,1226.2L1693.8,1227.5L1694.4,1228.9L1695.1,1230.2L1695.8,1231.6L1696.4,1232.9L1697.1,1234.2L1697.8,1235.6L1698.5,1236.9L1699.2,1238.2L1699.9,1239.6L1700.6,1240.9L1701.3,1242.2L1702.0,1243.5L1702.8,1244.8L1703.5,1246.2L1704.2,1247.5L1705.0,1248.8L1705.7,1250.1L1706.5,1251.4L1707.2,1252.7L1708.0,1254.0L1708.7,1255.3L1709.5,1256.5L1710.3,1257.8L1711.1,1259.1L1711.9,1260.4L1712.7,1261.7L1713.5,1262.9L1714.3,1264.2L1715.1,1265.5L1715.9,1266.7L1716.7,1268.0L1717.6,1269.2L1718.4,1270.5L1719.3,1271.7L1720.1,1272.9L1721.0,1274.2L1721.8,1275.4L1722.7,1276.6L1723.6,1277.9L1724.4,1279.1L1725.3,1280.3L1726.2,1281.5L1727.1,1282.7L1728.0,1283.9L1728.9,1285.1L1729.9,1286.3L1730.8,1287.5L1731.7,1288.6L1732.6,1289.8L1733.6,1291.0L1734.5,1292.1L1735.5,1293.3" fill="none" stroke="#ff0000" stroke-width="8.7" stroke-linecap="round" stroke-linejoin="round"/>
<line x1="258.0" y1="1293.3" x2="304.0" y2="1293.3" stroke="#000" stroke-width="6.2"/>
<line x1="328.4" y1="1293.3" x2="388.3" y2="1293.3" stroke="#000" stroke-width="6.2"/>
<line x1="412.7" y1="1293.3" x2="472.6" y2="1293.3" stroke="#000" stroke-width="6.2"/>
<line x1="497.0" y1="1293.3" x2="556.9" y2="1293.3" stroke="#000" stroke-width="6.2"/>
<line x1="581.3" y1="1293.3" x2="641.2" y2="1293.3" stroke="#000" stroke-width="6.2"/>
<line x1="665.6" y1="1293.3" x2="725.5" y2="1293.3" stroke="#000" stroke-width="6.2"/>
<line x1="749.9" y1="1293.3" x2="809.8" y2="1293.3" stroke="#000" stroke-width="6.2"/>
<line x1="834.2" y1="1293.3" x2="894.1" y2="1293.3" stroke="#000" stroke-width="6.2"/>
<line x1="918.5" y1="1293.3" x2="978.4" y2="1293.3" stroke="#000" stroke-width="6.2"/>
<line x1="1002.8" y1="1293.3" x2="1062.7" y2="1293.3" stroke="#000" stroke-width="6.2"/>
<line x1="1735.0" y1="1293.3" x2="1774.3" y2="1293.3" stroke="#000" stroke-width="6.2"/>
<line x1="1798.3" y1="1293.3" x2="1858.2" y2="1293.3" stroke="#000" stroke-width="6.2"/>
<line x1="1882.2" y1="1293.3" x2="1942.8" y2="1293.3" stroke="#000" stroke-width="6.2"/>
<line x1="1966.8" y1="1293.3" x2="2027.1" y2="1293.3" stroke="#000" stroke-width="6.2"/>
<line x1="2051.1" y1="1293.3" x2="2112.0" y2="1293.3" stroke="#000" stroke-width="6.2"/>
<line x1="2136.0" y1="1293.3" x2="2196.3" y2="1293.3" stroke="#000" stroke-width="6.2"/>
<clipPath id="cd"><rect x="0" y="0" width="2350" height="1289.8"/></clipPath>
<g clip-path="url(#cd)"><path d="M1058.0,1293.3L1059.3,1292.5L1060.6,1291.8L1061.9,1291.0L1063.1,1290.2L1064.4,1289.3L1065.6,1288.5L1066.9,1287.7L1068.1,1286.8L1069.3,1285.9L1070.5,1285.0L1071.7,1284.1L1072.9,1283.2L1074.1,1282.3L1075.2,1281.3L1076.4,1280.4L1077.5,1279.4L1078.7,1278.4L1079.8,1277.4L1080.9,1276.4L1082.0,1275.4L1083.1,1274.3L1084.2,1273.3L1085.2,1272.2L1086.3,1271.2L1087.4,1270.1L1088.4,1269.0L1089.4,1267.9L1090.4,1266.8L1091.4,1265.7L1092.4,1264.5L1093.4,1263.4L1094.4,1262.3L1095.3,1261.1L1096.3,1259.9L1097.2,1258.8L1098.1,1257.6L1099.0,1256.4L1099.9,1255.2L1100.8,1254.0L1101.7,1252.8L1102.6,1251.5L1103.5,1250.3L1104.3,1249.1L1105.1,1247.8L1106.0,1246.6L1106.8,1245.3L1107.6,1244.1L1108.4,1242.8L1109.2,1241.5L1110.0,1240.2L1110.8,1238.9L1111.5,1237.7L1112.3,1236.4L1113.0,1235.1L1113.8,1233.7L1114.5,1232.4L1115.2,1231.1L1115.9,1229.8L1116.6,1228.5L1117.3,1227.1L1118.0,1225.8L1118.7,1224.5L1119.4,1223.1L1120.0,1221.8L1120.7,1220.4L1121.3,1219.1L1122.0,1217.7L1122.6,1216.4L1123.2,1215.0L1123.9,1213.6L1124.5,1212.3L1125.1,1210.9L1125.7,1209.5L1126.3,1208.1L1126.9,1206.7L1127.5,1205.4L1128.1,1204.0L1128.6,1202.6L1129.2,1201.2L1129.8,1199.8L1130.3,1198.4L1130.9,1197.0L1131.4,1195.6L1132.0,1194.2L1132.5,1192.8L1133.0,1191.4L1133.6,1190.0L1134.1,1188.6L1134.6,1187.2L1135.1,1185.8L1135.6,1184.4L1136.1,1183.0L1136.7,1181.5L1137.2,1180.1L1137.7,1178.7L1138.1,1177.3L1138.6,1175.9L1139.1,1174.5L1139.6,1173.0L1140.1,1171.6L1140.6,1170.2L1141.1,1168.8L1141.5,1167.3L1142.0,1165.9L1142.5,1164.5L1142.9,1163.1L1143.4,1161.6L1143.9,1160.2L1144.3,1158.8L1144.8,1157.4L1145.3,1155.9L1145.7,1154.5L1146.2,1153.1L1146.6,1151.6L1147.1,1150.2L1147.5,1148.8L1148.0,1147.3L1148.5,1145.9L1148.9,1144.5L1149.4,1143.0L1149.8,1141.6L1150.3,1140.2L1150.7,1138.7L1151.2,1137.3L1151.6,1135.9L1152.0,1134.4L1152.5,1133.0L1152.9,1131.6L1153.4,1130.1L1153.8,1128.7L1154.3,1127.3L1154.7,1125.8L1155.1,1124.4L1155.6,1123.0L1156.0,1121.5L1156.5,1120.1L1156.9,1118.7L1157.3,1117.2L1157.8,1115.8L1158.2,1114.3L1158.6,1112.9L1159.1,1111.5L1159.5,1110.0L1159.9,1108.6L1160.4,1107.2L1160.8,1105.7L1161.2,1104.3L1161.6,1102.8L1162.1,1101.4L1162.5,1100.0L1162.9,1098.5L1163.4,1097.1L1163.8,1095.6L1164.2,1094.2L1164.6,1092.8L1165.0,1091.3L1165.5,1089.9L1165.9,1088.4L1166.3,1087.0L1166.7,1085.5L1167.1,1084.1L1167.6,1082.7L1168.0,1081.2L1168.4,1079.8L1168.8,1078.3L1169.2,1076.9L1169.6,1075.4L1170.0,1074.0L1170.4,1072.6L1170.9,1071.1L1171.3,1069.7L1171.7,1068.2L1172.1,1066.8L1172.5,1065.3L1172.9,1063.9L1173.3,1062.4L1173.7,1061.0L1174.1,1059.5L1174.5,1058.1L1174.9,1056.7L1175.3,1055.2L1175.7,1053.8L1176.1,1052.3L1176.5,1050.9L1176.9,1049.4L1177.3,1048.0L1177.7,1046.5L1178.1,1045.1L1178.5,1043.6L1178.9,1042.2L1179.3,1040.7L1179.7,1039.3L1180.1,1037.8L1180.5,1036.4L1180.9,1034.9L1181.3,1033.5L1181.7,1032.0L1182.0,1030.6L1182.4,1029.1L1182.8,1027.7L1183.2,1026.2L1183.6,1024.8L1184.0,1023.3L1184.4,1021.9L1184.8,1020.4L1185.1,1019.0L1185.5,1017.5L1185.9,1016.1L1186.3,1014.6L1186.7,1013.2L1187.1,1011.7L1187.4,1010.3L1187.8,1008.8L1188.2,1007.4L1188.6,1005.9L1189.0,1004.4L1189.3,1003.0L1189.7,1001.5L1190.1,1000.1L1190.5,998.6L1190.8,997.2L1191.2,995.7L1191.6,994.3L1192.0,992.8L1192.3,991.4L1192.7,989.9L1193.1,988.4L1193.4,987.0L1193.8,985.5L1194.2,984.1L1194.5,982.6L1194.9,981.2L1195.3,979.7L1195.6,978.3L1196.0,976.8L1196.4,975.3L1196.7,973.9L1197.1,972.4L1197.5,971.0L1197.8,969.5L1198.2,968.1L1198.6,966.6L1198.9,965.1L1199.3,963.7L1199.6,962.2L1200.0,960.8L1200.4,959.3L1200.7,957.9L1201.1,956.4L1201.4,954.9L1201.8,953.5L1202.2,952.0L1202.5,950.6L1202.9,949.1L1203.2,947.6L1203.6,946.2L1203.9,944.7L1204.3,943.3L1204.6,941.8L1205.0,940.3L1205.3,938.9L1205.7,937.4L1206.0,936.0L1206.4,934.5L1206.7,933.0L1207.1,931.6L1207.4,930.1L1207.8,928.7L1208.1,927.2L1208.5,925.7L1208.8,924.3L1209.2,922.8L1209.5,921.4L1209.9,919.9L1210.2,918.4L1210.6,917.0L1210.9,915.5L1211.3,914.1L1211.6,912.6L1212.0,911.1L1212.3,909.7L1212.6,908.2L1213.0,906.7L1213.3,905.3L1213.7,903.8L1214.0,902.4L1214.3,900.9L1214.7,899.4L1215.0,898.0L1215.4,896.5L1215.7,895.0L1216.0,893.6L1216.4,892.1L1216.7,890.7L1217.1,889.2L1217.4,887.7L1217.7,886.3L1218.1,884.8L1218.4,883.3L1218.7,881.9L1219.1,880.4L1219.4,878.9L1219.8,877.5L1220.1,876.0L1220.4,874.6L1220.8,873.1L1221.1,871.6L1221.4,870.2L1221.8,868.7L1222.1,867.2L1222.4,865.8L1222.8,864.3L1223.1,862.8L1223.4,861.4L1223.7,859.9L1224.1,858.4L1224.4,857.0L1224.7,855.5L1225.1,854.1L1225.4,852.6L1225.7,851.1L1226.1,849.7L1226.4,848.2L1226.7,846.7L1227.0,845.3L1227.4,843.8L1227.7,842.3L1228.0,840.9L1228.4,839.4L1228.7,837.9L1229.0,836.5L1229.3,835.0L1229.7,833.5L1230.0,832.1L1230.3,830.6L1230.6,829.1L1231.0,827.7L1231.3,826.2L1231.6,824.7L1231.9,823.3L1232.3,821.8L1232.6,820.3L1232.9,818.9L1233.2,817.4L1233.6,815.9L1233.9,814.5L1234.2,813.0L1234.5,811.5L1234.9,810.1L1235.2,808.6L1235.5,807.1L1235.8,805.7L1236.2,804.2L1236.5,802.7L1236.8,801.3L1237.1,799.8L1237.5,798.3L1237.8,796.9L1238.1,795.4L1238.4,793.9L1238.7,792.5L1239.1,791.0L1239.4,789.5L1239.7,788.1L1240.0,786.6L1240.3,785.1L1240.7,783.7L1241.0,782.2L1241.3,780.7L1241.6,779.3L1242.0,777.8L1242.3,776.3L1242.6,774.9L1242.9,773.4L1243.2,771.9L1243.6,770.5L1243.9,769.0L1244.2,767.5L1244.5,766.1L1244.8,764.6L1245.2,763.1L1245.5,761.7L1245.8,760.2L1246.1,758.7L1246.4,757.3L1246.8,755.8L1247.1,754.3L1247.4,752.9L1247.7,751.4L1248.1,749.9L1248.4,748.5L1248.7,747.0L1249.0,745.5L1249.3,744.1L1249.7,742.6L1250.0,741.1L1250.3,739.7L1250.6,738.2L1250.9,736.7L1251.3,735.3L1251.6,733.8L1251.9,732.3L1252.2,730.9L1252.5,729.4L1252.9,727.9L1253.2,726.5L1253.5,725.0L1253.8,723.5L1254.2,722.1L1254.5,720.6L1254.8,719.1L1255.1,717.7L1255.4,716.2L1255.8,714.7L1256.1,713.3L1256.4,711.8L1256.7,710.3L1257.1,708.9L1257.4,707.4L1257.7,705.9L1258.0,704.5L1258.3,703.0L1258.7,701.5L1259.0,700.1L1259.3,698.6L1259.6,697.1L1260.0,695.7L1260.3,694.2L1260.6,692.7L1260.9,691.3L1261.3,689.8L1261.6,688.3L1261.9,686.9L1262.2,685.4L1262.6,683.9L1262.9,682.5L1263.2,681.0L1263.5,679.5L1263.9,678.1L1264.2,676.6L1264.5,675.1L1264.8,673.7L1265.2,672.2L1265.5,670.7L1265.8,669.3L1266.1,667.8L1266.5,666.3L1266.8,664.9L1267.1,663.4L1267.5,662.0L1267.8,660.5L1268.1,659.0L1268.4,657.6L1268.8,656.1L1269.1,654.6L1269.4,653.2L1269.8,651.7L1270.1,650.2L1270.4,648.8L1270.8,647.3L1271.1,645.8L1271.4,644.4L1271.7,642.9L1272.1,641.4L1272.4,640.0L1272.7,638.5L1273.1,637.1L1273.4,635.6L1273.7,634.1L1274.1,632.7L1274.4,631.2L1274.7,629.7L1275.1,628.3L1275.4,626.8L1275.8,625.3L1276.1,623.9L1276.4,622.4L1276.8,621.0L1277.1,619.5L1277.4,618.0L1277.8,616.6L1278.1,615.1L1278.5,613.6L1278.8,612.2L1279.1,610.7L1279.5,609.2L1279.8,607.8L1280.2,606.3L1280.5,604.9L1280.8,603.4L1281.2,601.9L1281.5,600.5L1281.9,599.0L1282.2,597.5L1282.6,596.1L1282.9,594.6L1283.3,593.2L1283.6,591.7L1283.9,590.2L1284.3,588.8L1284.6,587.3L1285.0,585.9L1285.3,584.4L1285.7,582.9L1286.1,581.5L1286.4,580.0L1286.8,578.6L1287.1,577.1L1287.5,575.6L1287.8,574.2L1288.2,572.7L1288.6,571.3L1288.9,569.8L1289.3,568.4L1289.7,566.9L1290.1,565.5L1290.4,564.0L1290.8,562.5L1291.2,561.1L1291.6,559.6L1291.9,558.2L1292.3,556.7L1292.7,555.3L1293.1,553.8L1293.5,552.4L1293.9,550.9L1294.3,549.5L1294.7,548.0L1295.1,546.6L1295.5,545.2L1295.9,543.7L1296.3,542.3L1296.7,540.8L1297.2,539.4L1297.6,537.9L1298.0,536.5L1298.4,535.1L1298.9,533.6L1299.3,532.2L1299.7,530.7L1300.2,529.3L1300.6,527.9L1301.1,526.4L1301.5,525.0L1302.0,523.6L1302.4,522.1L1302.9,520.7L1303.3,519.3L1303.8,517.9L1304.3,516.4L1304.8,515.0L1305.2,513.6L1305.7,512.2L1306.2,510.7L1306.7,509.3L1307.2,507.9L1307.7,506.5L1308.2,505.1L1308.7,503.7L1309.2,502.2L1309.7,500.8L1310.2,499.4L1310.7,498.0L1311.3,496.6L1311.8,495.2L1312.3,493.8L1312.9,492.4L1313.4,491.0L1313.9,489.6L1314.5,488.2L1315.0,486.8L1315.6,485.4L1316.2,484.0L1316.7,482.6L1317.3,481.2L1317.9,479.8L1318.4,478.4L1319.0,477.1L1319.6,475.7L1320.2,474.3L1320.8,472.9L1321.4,471.5L1322.0,470.2L1322.6,468.8L1323.2,467.4L1323.8,466.0L1324.4,464.7L1325.0,463.3L1325.6,461.9L1326.3,460.6L1326.9,459.2L1327.6,457.9L1328.2,456.5L1328.9,455.2L1329.6,453.8L1330.3,452.5L1331.0,451.2L1331.7,449.9L1332.5,448.6L1333.2,447.3L1334.0,446.0L1334.8,444.7L1335.6,443.4L1336.4,442.2L1337.3,441.0L1338.2,439.8L1339.1,438.6L1340.0,437.4L1341.0,436.2L1342.0,435.1L1343.0,434.0L1344.1,433.0L1345.2,432.0L1346.3,431.0L1347.5,430.0L1348.7,429.1L1349.9,428.3L1351.2,427.5L1352.5,426.7L1353.9,426.0L1355.2,425.4L1356.6,424.8L1358.0,424.3L1359.4,423.9L1360.9,423.5L1362.4,423.2L1363.9,422.9L1365.3,422.8L1366.8,422.7L1368.3,422.7L1369.8,422.8L1371.3,423.0L1372.8,423.3L1374.3,423.6L1375.7,424.1L1377.1,424.7L1378.4,425.3L1379.7,426.1L1381.0,426.9L1382.2,427.8L1383.4,428.7L1384.5,429.7L1385.6,430.8L1386.6,431.9L1387.6,433.0L1388.6,434.1L1389.5,435.3L1390.4,436.5L1391.3,437.7L1392.2,438.9L1393.0,440.2L1393.8,441.4L1394.6,442.7L1395.4,444.0L1396.2,445.3L1397.0,446.5L1397.8,447.8L1398.5,449.1L1399.3,450.4L1400.0,451.8L1400.7,453.1L1401.4,454.4L1402.1,455.7L1402.8,457.1L1403.5,458.4L1404.1,459.8L1404.8,461.1L1405.4,462.5L1406.0,463.8L1406.7,465.2L1407.3,466.6L1407.9,468.0L1408.5,469.3L1409.0,470.7L1409.6,472.1L1410.2,473.5L1410.7,474.9L1411.3,476.3L1411.8,477.7L1412.4,479.1L1412.9,480.5L1413.4,481.9L1413.9,483.3L1414.4,484.7L1414.9,486.2L1415.4,487.6L1415.9,489.0L1416.4,490.4L1416.9,491.8L1417.3,493.3L1417.8,494.7L1418.3,496.1L1418.7,497.5L1419.2,499.0L1419.7,500.4L1420.1,501.8L1420.6,503.3L1421.0,504.7L1421.5,506.1L1421.9,507.6L1422.3,509.0L1422.8,510.4L1423.2,511.9L1423.7,513.3L1424.1,514.7L1424.5,516.2L1425.0,517.6L1425.4,519.1L1425.8,520.5L1426.3,521.9L1426.7,523.4L1427.1,524.8L1427.5,526.3L1427.9,527.7L1428.4,529.1L1428.8,530.6L1429.2,532.0L1429.6,533.5L1430.0,534.9L1430.4,536.4L1430.8,537.8L1431.2,539.3L1431.6,540.7L1432.0,542.2L1432.4,543.6L1432.8,545.1L1433.2,546.5L1433.6,548.0L1434.0,549.4L1434.4,550.9L1434.8,552.3L1435.1,553.8L1435.5,555.2L1435.9,556.7L1436.3,558.1L1436.7,559.6L1437.0,561.0L1437.4,562.5L1437.8,563.9L1438.2,565.4L1438.5,566.8L1438.9,568.3L1439.3,569.7L1439.6,571.2L1440.0,572.7L1440.4,574.1L1440.7,575.6L1441.1,577.0L1441.5,578.5L1441.8,579.9L1442.2,581.4L1442.5,582.9L1442.9,584.3L1443.2,585.8L1443.6,587.2L1443.9,588.7L1444.3,590.2L1444.6,591.6L1445.0,593.1L1445.3,594.6L1445.7,596.0L1446.0,597.5L1446.3,598.9L1446.7,600.4L1447.0,601.9L1447.4,603.3L1447.7,604.8L1448.0,606.3L1448.4,607.7L1448.7,609.2L1449.0,610.6L1449.3,612.1L1449.7,613.6L1450.0,615.0L1450.3,616.5L1450.7,618.0L1451.0,619.4L1451.3,620.9L1451.6,622.4L1452.0,623.8L1452.3,625.3L1452.6,626.8L1452.9,628.2L1453.2,629.7L1453.5,631.2L1453.9,632.6L1454.2,634.1L1454.5,635.6L1454.8,637.1L1455.1,638.5L1455.4,640.0L1455.7,641.5L1456.1,642.9L1456.4,644.4L1456.7,645.9L1457.0,647.3L1457.3,648.8L1457.6,650.3L1457.9,651.7L1458.2,653.2L1458.5,654.7L1458.8,656.2L1459.1,657.6L1459.4,659.1L1459.7,660.6L1460.0,662.0L1460.3,663.5L1460.6,665.0L1460.9,666.5L1461.2,667.9L1461.5,669.4L1461.8,670.9L1462.1,672.3L1462.4,673.8L1462.7,675.3L1463.0,676.8L1463.3,678.2L1463.6,679.7L1463.9,681.2L1464.2,682.7L1464.5,684.1L1464.8,685.6L1465.1,687.1L1465.4,688.5L1465.7,690.0L1465.9,691.5L1466.2,693.0L1466.5,694.4L1466.8,695.9L1467.1,697.4L1467.4,698.9L1467.7,700.3L1468.0,701.8L1468.3,703.3L1468.6,704.7L1468.9,706.2L1469.1,707.7L1469.4,709.2L1469.7,710.6L1470.0,712.1L1470.3,713.6L1470.6,715.1L1470.9,716.5L1471.2,718.0L1471.5,719.5L1471.7,721.0L1472.0,722.4L1472.3,723.9L1472.6,725.4L1472.9,726.8L1473.2,728.3L1473.5,729.8L1473.8,731.3L1474.1,732.7L1474.4,734.2L1474.6,735.7L1474.9,737.2L1475.2,738.6L1475.5,740.1L1475.8,741.6L1476.1,743.1L1476.4,744.5L1476.7,746.0L1477.0,747.5L1477.3,748.9L1477.6,750.4L1477.8,751.9L1478.1,753.4L1478.4,754.8L1478.7,756.3L1479.0,757.8L1479.3,759.3L1479.6,760.7L1479.9,762.2L1480.2,763.7L1480.5,765.1L1480.8,766.6L1481.1,768.1L1481.4,769.6L1481.7,771.0L1482.0,772.5L1482.3,774.0L1482.6,775.5L1482.9,776.9L1483.2,778.4L1483.4,779.9L1483.7,781.3L1484.0,782.8L1484.3,784.3L1484.6,785.8L1484.9,787.2L1485.2,788.7L1485.5,790.2L1485.8,791.6L1486.1,793.1L1486.4,794.6L1486.7,796.1L1487.0,797.5L1487.3,799.0L1487.6,800.5L1487.9,801.9L1488.2,803.4L1488.5,804.9L1488.8,806.4L1489.2,807.8L1489.5,809.3L1489.8,810.8L1490.1,812.2L1490.4,813.7L1490.7,815.2L1491.0,816.7L1491.3,818.1L1491.6,819.6L1491.9,821.1L1492.2,822.5L1492.5,824.0L1492.8,825.5L1493.1,826.9L1493.4,828.4L1493.7,829.9L1494.0,831.4L1494.3,832.8L1494.6,834.3L1494.9,835.8L1495.2,837.2L1495.6,838.7L1495.9,840.2L1496.2,841.6L1496.5,843.1L1496.8,844.6L1497.1,846.1L1497.4,847.5L1497.7,849.0L1498.0,850.5L1498.3,851.9L1498.6,853.4L1499.0,854.9L1499.3,856.3L1499.6,857.8L1499.9,859.3L1500.2,860.7L1500.5,862.2L1500.8,863.7L1501.1,865.2L1501.4,866.6L1501.8,868.1L1502.1,869.6L1502.4,871.0L1502.7,872.5L1503.0,874.0L1503.3,875.4L1503.6,876.9L1503.9,878.4L1504.3,879.8L1504.6,881.3L1504.9,882.8L1505.2,884.2L1505.5,885.7L1505.8,887.2L1506.1,888.7L1506.5,890.1L1506.8,891.6L1507.1,893.1L1507.4,894.5L1507.7,896.0L1508.0,897.5L1508.3,898.9L1508.7,900.4L1509.0,901.9L1509.3,903.3L1509.6,904.8L1509.9,906.3L1510.2,907.7L1510.6,909.2L1510.9,910.7L1511.2,912.1L1511.5,913.6L1511.8,915.1L1512.2,916.5L1512.5,918.0L1512.8,919.5L1513.1,920.9L1513.4,922.4L1513.7,923.9L1514.1,925.4L1514.4,926.8L1514.7,928.3L1515.0,929.8L1515.3,931.2L1515.7,932.7L1516.0,934.2L1516.3,935.6L1516.6,937.1L1516.9,938.6L1517.3,940.0L1517.6,941.5L1517.9,943.0L1518.2,944.4L1518.6,945.9L1518.9,947.4L1519.2,948.8L1519.5,950.3L1519.8,951.8L1520.2,953.2L1520.5,954.7L1520.8,956.2L1521.1,957.6L1521.5,959.1L1521.8,960.6L1522.1,962.0L1522.4,963.5L1522.7,965.0L1523.1,966.4L1523.4,967.9L1523.7,969.4L1524.0,970.8L1524.4,972.3L1524.7,973.8L1525.0,975.2L1525.3,976.7L1525.7,978.2L1526.0,979.6L1526.3,981.1L1526.6,982.5L1527.0,984.0L1527.3,985.5L1527.6,986.9L1527.9,988.4L1528.3,989.9L1528.6,991.3L1528.9,992.8L1529.2,994.3L1529.6,995.7L1529.9,997.2L1530.2,998.7L1530.6,1000.1L1530.9,1001.6L1531.2,1003.1L1531.5,1004.5L1531.9,1006.0L1532.2,1007.5L1532.5,1008.9L1532.8,1010.4L1533.2,1011.9L1533.5,1013.3L1533.8,1014.8L1534.2,1016.3L1534.5,1017.7L1534.8,1019.2L1535.1,1020.7L1535.5,1022.1L1535.8,1023.6L1536.1,1025.1L1536.5,1026.5L1536.8,1028.0L1537.1,1029.4L1537.4,1030.9L1537.8,1032.4L1538.1,1033.8L1538.4,1035.3L1538.8,1036.8L1539.1,1038.2L1539.4,1039.7L1539.7,1041.2L1540.1,1042.6L1540.4,1044.1L1540.7,1045.6L1541.1,1047.0L1541.4,1048.5L1541.7,1050.0L1542.1,1051.4L1542.4,1052.9L1542.7,1054.4L1543.0,1055.8L1543.4,1057.3L1543.7,1058.7L1544.0,1060.2L1544.4,1061.7L1544.7,1063.1L1545.0,1064.6L1545.4,1066.1L1545.7,1067.5L1546.0,1069.0L1546.4,1070.5L1546.7,1071.9L1547.0,1073.4L1547.4,1074.9L1547.7,1076.3L1548.0,1077.8L1548.4,1079.3L1548.7,1080.7L1549.0,1082.2L1549.3,1083.6L1549.7,1085.1L1550.0,1086.6L1550.3,1088.0L1550.7,1089.5L1551.0,1091.0L1551.3,1092.4L1551.7,1093.9L1552.0,1095.4L1552.3,1096.8L1552.7,1098.3L1553.0,1099.8L1553.3,1101.2L1553.7,1102.7L1554.0,1104.1L1554.3,1105.6L1554.7,1107.1L1555.0,1108.5L1555.3,1110.0L1555.7,1111.5L1556.0,1112.9L1556.3,1114.4L1556.7,1115.9L1557.0,1117.3L1557.3,1118.8L1557.7,1120.3L1558.0,1121.7L1558.4,1123.2L1558.7,1124.6L1559.0,1126.1L1559.4,1127.6L1559.7,1129.0L1560.1,1130.5L1560.4,1132.0L1560.7,1133.4L1561.1,1134.9L1561.4,1136.3L1561.8,1137.8L1562.1,1139.3L1562.5,1140.7L1562.8,1142.2L1563.2,1143.6L1563.5,1145.1L1563.9,1146.6L1564.2,1148.0L1564.6,1149.5L1565.0,1150.9L1565.3,1152.4L1565.7,1153.9L1566.0,1155.3L1566.4,1156.8L1566.8,1158.2L1567.1,1159.7L1567.5,1161.1L1567.9,1162.6L1568.3,1164.0L1568.6,1165.5L1569.0,1167.0L1569.4,1168.4L1569.8,1169.9L1570.2,1171.3L1570.5,1172.8L1570.9,1174.2L1571.3,1175.7L1571.7,1177.1L1572.1,1178.6L1572.5,1180.0L1572.9,1181.5L1573.3,1182.9L1573.7,1184.4L1574.1,1185.8L1574.5,1187.2L1574.9,1188.7L1575.3,1190.1L1575.8,1191.6L1576.2,1193.0L1576.6,1194.5L1577.0,1195.9L1577.4,1197.3L1577.9,1198.8L1578.3,1200.2L1578.7,1201.7L1579.2,1203.1L1579.6,1204.5L1580.1,1206.0L1580.5,1207.4L1581.0,1208.8L1581.4,1210.3L1581.9,1211.7L1582.3,1213.1L1582.8,1214.5L1583.3,1216.0L1583.7,1217.4L1584.2,1218.8L1584.7,1220.2L1585.2,1221.7L1585.6,1223.1L1586.1,1224.5L1586.6,1225.9L1587.1,1227.3L1587.6,1228.8L1588.1,1230.2L1588.6,1231.6L1589.1,1233.0L1589.6,1234.4L1590.2,1235.8L1590.7,1237.2L1591.2,1238.6L1591.7,1240.0L1592.3,1241.4L1592.8,1242.9L1593.4,1244.3L1593.9,1245.7L1594.5,1247.0L1595.0,1248.4L1595.6,1249.8L1596.1,1251.2L1596.7,1252.6L1597.3,1254.0L1597.9,1255.4L1598.4,1256.8L1599.0,1258.2L1599.6,1259.5L1600.2,1260.9L1600.8,1262.3L1601.4,1263.7L1602.0,1265.0L1602.6,1266.4L1603.3,1267.8L1603.9,1269.1L1604.5,1270.5L1605.1,1271.9L1605.8,1273.2L1606.4,1274.6L1607.1,1275.9L1607.7,1277.3L1608.4,1278.6L1609.1,1280.0L1609.7,1281.3L1610.4,1282.7L1611.1,1284.0L1611.8,1285.3L1612.5,1286.7L1613.2,1288.0L1613.9,1289.3L1614.6,1290.7L1615.3,1292.0L1616.0,1293.3" fill="none" stroke="#000" stroke-width="7.7" stroke-linecap="round" stroke-linejoin="round" stroke-dasharray="52.4 31.9" stroke-dashoffset="52.39"/></g>
<text x="191.5" y="1316.6" font-size="77.0" text-anchor="end">0</text>
<text x="191.5" y="1006.3" font-size="77.0" text-anchor="end">5</text>
<text x="191.5" y="695.9" font-size="77.0" text-anchor="end">10</text>
<text x="191.5" y="385.6" font-size="77.0" text-anchor="end">15</text>
<text x="191.5" y="75.3" font-size="77.0" text-anchor="end">20</text>
<text x="259.5" y="1409.5" font-size="77.0" text-anchor="middle">10</text>
<text x="914.0" y="1409.5" font-size="77.0" text-anchor="middle">100</text>
<text x="1568.4" y="1409.5" font-size="77.0" text-anchor="middle">1000</text>
<text x="2222.9" y="1409.5" font-size="77.0" text-anchor="middle">10000</text>
<text x="1239.5" y="1493.5" font-size="77.0" text-anchor="middle">Particle size (μm)</text>
<text transform="translate(90.2,671.4) rotate(-90)" font-size="76.2" text-anchor="middle">Volume (%)</text>
<text x="382.8" y="129.7" font-size="70.0">SAP A</text>
<text x="382.8" y="209.9" font-size="70.0">SAP B</text>
<text x="382.8" y="291.2" font-size="70.0">SAP C</text>
<text x="382.8" y="371.7" font-size="70.0">SAP D</text>
<g stroke-width="7.7" stroke-linecap="round" fill="none">
<line x1="293.7" y1="107.9" x2="307.4" y2="107.9" stroke="#000"/>
<line x1="324.6" y1="107.9" x2="338.3" y2="107.9" stroke="#000"/>
<line x1="355.5" y1="107.9" x2="370.0" y2="107.9" stroke="#000"/>
<line x1="293.7" y1="190.0" x2="372.5" y2="190.0" stroke="#000"/>
<line x1="294.1" y1="269.4" x2="372.1" y2="269.4" stroke="#ff0000" stroke-width="8.7"/>
<line x1="293.7" y1="349.9" x2="346" y2="349.9" stroke="#000"/>
</g>
</svg></body></html>
